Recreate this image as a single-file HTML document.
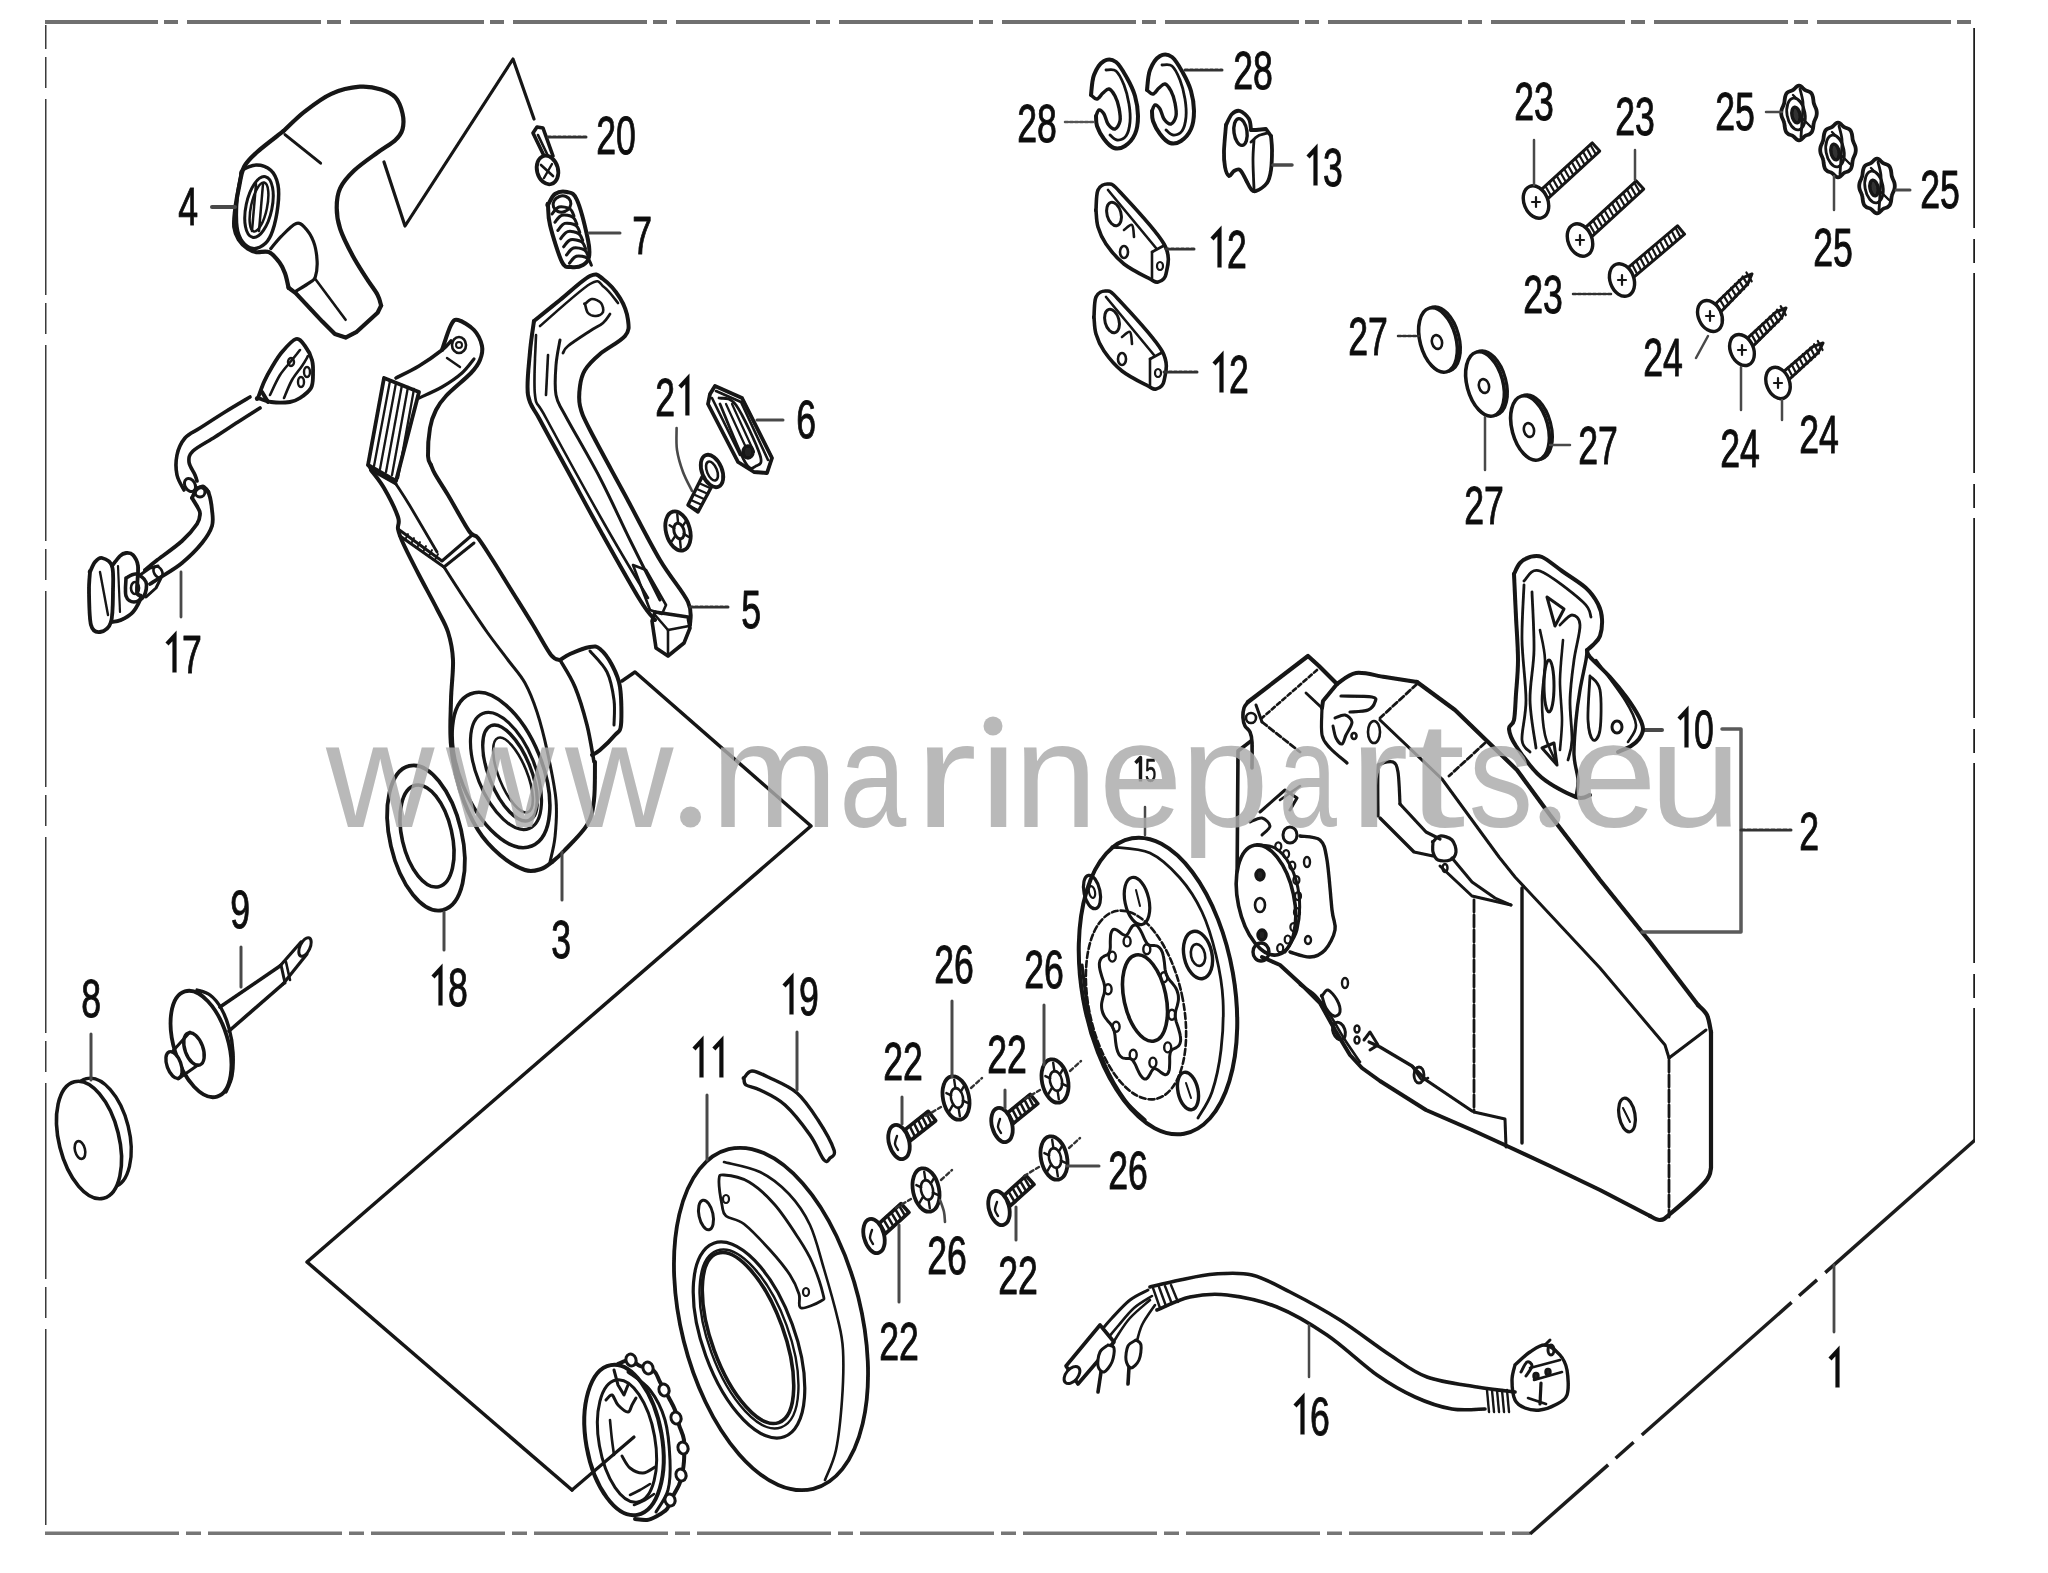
<!DOCTYPE html>
<html><head><meta charset="utf-8"><title>Parts diagram</title>
<style>html,body{margin:0;padding:0;background:#fff;overflow:hidden}svg{display:block;will-change:transform}</style>
</head><body>
<svg xmlns="http://www.w3.org/2000/svg" width="2048" height="1573" viewBox="0 0 2048 1573" stroke-linecap="round" stroke-linejoin="round">
<defs><filter id="soft" x="0" y="0" width="1" height="1"><feGaussianBlur stdDeviation="0.7"/></filter></defs>
<rect width="2048" height="1573" fill="#fff"/>
<g font-family="Liberation Sans, sans-serif" filter="url(#soft)">
<line x1="45" y1="20.5" x2="1974" y2="20.5" stroke="#707070" stroke-width="7" stroke-dasharray="134 6 14 9" stroke-dashoffset="21" stroke-linecap="butt"/>
<line x1="45" y1="25" x2="45" y2="1534" stroke="#3a3a3a" stroke-width="3" stroke-dasharray="196 8 31 11" stroke-dashoffset="-74" stroke-linecap="butt"/>
<line x1="45" y1="1534.5" x2="1530" y2="1534.5" stroke="#767676" stroke-width="6" stroke-dasharray="134 7 15 7" stroke-dashoffset="0" stroke-linecap="butt"/>
<line x1="1975" y1="28" x2="1975" y2="1140" stroke="#1e1e1e" stroke-width="3.5" stroke-dasharray="200 11 24 10" stroke-linecap="butt"/>
<line x1="1975" y1="1140" x2="1530" y2="1534" stroke="#1e1e1e" stroke-width="3.5" stroke-dasharray="200 11 24 10" stroke-linecap="butt"/>
<path d="M384,162 L405,226 L513,59 L534,119" fill="none" stroke="#141414" stroke-width="3.2" />
<path d="M622,681 L635,672 L811,826 L307,1262 L572,1490" fill="none" stroke="#141414" stroke-width="3.5" />
<path d="M283.3,131.2 C286.9,127.9 296.6,117.8 304.6,111.6 C312.6,105.4 322.1,97.9 331.3,93.8 C340.5,89.7 351.5,87.4 359.8,86.7 C368.1,86.0 375.2,87.6 381.1,89.4 C387.0,91.2 391.8,93.4 395.4,97.4 C399.0,101.4 401.3,108.1 402.5,113.4 C403.7,118.7 403.7,125.0 402.5,129.4 C401.3,133.8 399.5,136.2 395.4,140.1 C391.2,143.9 384.4,147.5 377.6,152.5 C370.8,157.5 360.6,164.4 354.4,170.3 C348.2,176.2 343.1,181.9 340.2,188.1 C337.2,194.3 336.7,200.9 336.7,207.7 C336.7,214.5 337.5,221.0 340.2,229.0 C342.9,237.0 348.2,247.4 352.7,255.7 C357.1,264.0 362.8,272.4 366.9,278.9 C371.0,285.4 375.2,290.4 377.6,294.9 C380.0,299.3 380.5,303.8 381.1,305.6" fill="none" stroke="#141414" stroke-width="4.2" />
<path d="M381.1,305.6 L377.6,312.7 L356.2,332.2 L345.6,337.6 L334.9,334.0 L322.4,321.6 L295.7,293.1 L288.6,287.8" fill="none" stroke="#141414" stroke-width="4.2" />
<path d="M288.6,287.8 C288.0,285.4 286.6,277.7 285.1,273.5 C283.6,269.3 282.4,266.4 279.7,262.8 C277.0,259.2 272.9,254.0 269.0,252.2 C265.1,250.4 260.2,252.8 256.6,252.2 C253.1,251.6 250.7,250.7 247.7,248.6 C244.7,246.5 241.0,243.2 238.8,239.7 C236.6,236.1 234.9,232.3 234.3,227.3 C233.7,222.3 234.4,216.0 235.2,209.5 C235.9,203.0 237.3,195.2 238.8,188.1 C240.3,181.0 241.1,172.7 244.1,166.8 C247.1,160.9 250.1,158.4 256.6,152.5 C263.1,146.6 278.9,134.8 283.3,131.2" fill="none" stroke="#141414" stroke-width="4.2" />
<path d="M242.3,170.3 C245.0,168.2 251.9,165.0 256.6,165.0 C261.4,165.0 267.2,167.0 270.8,170.3 C274.4,173.6 276.7,178.7 277.9,184.6 C279.1,190.5 278.8,198.2 277.9,205.9 C277.0,213.6 274.7,224.6 272.6,230.8 C270.5,237.0 268.8,240.3 265.5,243.3 C262.2,246.3 256.9,248.9 253.0,248.6 C249.1,248.3 245.0,245.1 242.3,241.5 C239.6,237.9 237.9,234.4 237.0,227.3 C236.1,220.2 236.4,207.1 237.0,198.8 C237.6,190.5 239.7,182.2 240.6,177.4 C241.5,172.7 239.6,172.4 242.3,170.3 Z" fill="none" stroke="#141414" stroke-width="3.5" />
<ellipse cx="259" cy="207" rx="13" ry="31" transform="rotate(12 259 207)" fill="none" stroke="#141414" stroke-width="3" />
<ellipse cx="259" cy="207" rx="8" ry="25" transform="rotate(12 259 207)" fill="none" stroke="#141414" stroke-width="2.5" />
<line x1="256" y1="184" x2="252" y2="231" stroke="#141414" stroke-width="2.5" />
<line x1="263" y1="184" x2="259" y2="231" stroke="#141414" stroke-width="2.5" />
<line x1="285" y1="134.7" x2="320.6" y2="163.2" stroke="#141414" stroke-width="3" />
<path d="M270.8,248.6 C272.6,246.5 277.4,240.3 281.5,236.2 C285.6,232.0 291.8,225.2 295.7,223.7 C299.6,222.2 301.6,224.3 304.6,227.3 C307.6,230.3 311.4,235.9 313.5,241.5 C315.6,247.1 316.8,255.1 317.1,261.0 C317.4,266.9 316.5,273.5 315.3,277.1 C314.1,280.7 313.3,280.0 310.0,282.4 C306.7,284.8 298.1,289.8 295.7,291.3" fill="none" stroke="#141414" stroke-width="3.2" />
<line x1="315.3" y1="278.9" x2="345.6" y2="319.8" stroke="#141414" stroke-width="2.6" />
<line x1="212" y1="207" x2="235" y2="207" stroke="#4a4a4a" stroke-width="4" />
<text transform="translate(178.3,225.0) scale(0.66,1)" font-size="54" fill="#111" stroke="#111" stroke-width="1.0">4</text>
<path d="M533,133 L537,127 L543,128 L553,156 L546,160 L533,133 Z" fill="none" stroke="#141414" stroke-width="3.6" />
<line x1="538" y1="135" x2="548" y2="156" stroke="#141414" stroke-width="2.6" />
<ellipse cx="547.5" cy="170" rx="10.5" ry="14.5" transform="rotate(-15 547.5 170)" fill="#fff" stroke="#141414" stroke-width="3.8" />
<line x1="541" y1="165" x2="553" y2="176" stroke="#141414" stroke-width="2.6" />
<line x1="544" y1="178" x2="552" y2="164" stroke="#141414" stroke-width="2.4" />
<line x1="548" y1="137" x2="587" y2="137" stroke="#333" stroke-width="3" stroke-dasharray="3 2"/>
<text transform="translate(596.3,154.0) scale(0.66,1)" font-size="54" fill="#111" stroke="#111" stroke-width="1.0">2</text>
<text transform="translate(616.1,154.0) scale(0.66,1)" font-size="54" fill="#111" stroke="#111" stroke-width="1.0">0</text>
<path d="M548.0,205.0 C549.2,203.2 551.8,196.2 555.0,194.0 C558.2,191.8 563.3,191.0 567.0,192.0 C570.7,193.0 573.5,192.0 577.0,200.0 C580.5,208.0 586.0,230.5 588.0,240.0 C590.0,249.5 589.8,252.8 589.0,257.0 C588.2,261.2 586.0,263.3 583.0,265.0 C580.0,266.7 574.5,267.5 571.0,267.0 C567.5,266.5 565.5,269.0 562.0,262.0 C558.5,255.0 552.3,234.5 550.0,225.0 C547.7,215.5 548.3,208.3 548.0,205.0 C547.7,201.7 546.8,206.8 548.0,205.0 Z" fill="none" stroke="#141414" stroke-width="4" />
<ellipse cx="562" cy="204" rx="9" ry="8" transform="rotate(-20 562 204)" fill="none" stroke="#141414" stroke-width="3" />
<path d="M552.0,214.0 C553.2,212.8 556.0,207.8 559.0,207.0 C562.0,206.2 567.5,207.5 570.0,209.0 C572.5,210.5 573.3,214.8 574.0,216.0" fill="none" stroke="#141414" stroke-width="3" />
<path d="M554.9,222.2 C556.1,221.0 558.9,216.0 561.9,215.2 C564.9,214.4 570.4,215.7 572.9,217.2 C575.4,218.7 576.2,223.0 576.9,224.2" fill="none" stroke="#141414" stroke-width="3" />
<path d="M557.8,230.4 C559.0,229.2 561.8,224.2 564.8,223.4 C567.8,222.6 573.3,223.9 575.8,225.4 C578.3,226.9 579.1,231.2 579.8,232.4" fill="none" stroke="#141414" stroke-width="3" />
<path d="M560.7,238.6 C561.9,237.4 564.7,232.4 567.7,231.6 C570.7,230.8 576.2,232.1 578.7,233.6 C581.2,235.1 582.0,239.4 582.7,240.6" fill="none" stroke="#141414" stroke-width="3" />
<path d="M563.6,246.8 C564.8,245.6 567.6,240.6 570.6,239.8 C573.6,239.0 579.1,240.3 581.6,241.8 C584.1,243.3 584.9,247.6 585.6,248.8" fill="none" stroke="#141414" stroke-width="3" />
<path d="M566.5,255.0 C567.7,253.8 570.5,248.8 573.5,248.0 C576.5,247.2 582.0,248.5 584.5,250.0 C587.0,251.5 587.8,255.8 588.5,257.0" fill="none" stroke="#141414" stroke-width="3" />
<path d="M569.4,263.2 C570.6,262.0 573.4,257.0 576.4,256.2 C579.4,255.4 584.9,256.7 587.4,258.2 C589.9,259.7 590.7,264.0 591.4,265.2" fill="none" stroke="#141414" stroke-width="3" />
<line x1="589" y1="233" x2="620" y2="233" stroke="#4a4a4a" stroke-width="3" />
<text transform="translate(632.3,254.0) scale(0.66,1)" font-size="54" fill="#111" stroke="#111" stroke-width="1.0">7</text>
<path d="M258.0,398.0 C259.0,395.3 261.7,387.2 264.0,382.0 C266.3,376.8 269.0,372.0 272.0,367.0 C275.0,362.0 278.0,356.7 282.0,352.0 C286.0,347.3 292.2,340.0 296.0,339.0 C299.8,338.0 302.3,342.5 305.0,346.0 C307.7,349.5 310.7,355.2 312.0,360.0 C313.3,364.8 313.2,370.3 313.0,375.0 C312.8,379.7 313.2,384.2 311.0,388.0 C308.8,391.8 303.5,395.7 300.0,398.0 C296.5,400.3 294.8,401.3 290.0,402.0 C285.2,402.7 276.3,402.7 271.0,402.0 C265.7,401.3 260.2,398.7 258.0,398.0 C255.8,397.3 257.0,400.7 258.0,398.0 Z" fill="none" stroke="#141414" stroke-width="3.8" />
<path d="M270.0,395.0 C271.7,391.7 276.3,380.8 280.0,375.0 C283.7,369.2 288.7,364.2 292.0,360.0 C295.3,355.8 298.7,351.7 300.0,350.0" fill="none" stroke="#141414" stroke-width="2.6" />
<path d="M284.0,398.0 C285.3,395.0 289.0,385.3 292.0,380.0 C295.0,374.7 299.3,370.0 302.0,366.0 C304.7,362.0 307.0,357.7 308.0,356.0" fill="none" stroke="#141414" stroke-width="2.6" />
<ellipse cx="291" cy="362" rx="3" ry="4" transform="rotate(0 291 362)" fill="none" stroke="#141414" stroke-width="2.4" />
<ellipse cx="301" cy="382" rx="3" ry="5" transform="rotate(0 301 382)" fill="none" stroke="#141414" stroke-width="2.4" />
<ellipse cx="307" cy="372" rx="3" ry="5" transform="rotate(0 307 372)" fill="none" stroke="#141414" stroke-width="2.4" />
<line x1="262" y1="392" x2="268" y2="402" stroke="#141414" stroke-width="4" />
<path d="M250.0,397.0 C245.8,399.5 233.3,406.8 225.0,412.0 C216.7,417.2 206.7,423.7 200.0,428.0 C193.3,432.3 188.8,433.5 185.0,438.0 C181.2,442.5 178.3,448.8 177.0,455.0 C175.7,461.2 175.8,469.2 177.0,475.0 C178.2,480.8 182.8,487.5 184.0,490.0" fill="none" stroke="#141414" stroke-width="3.6" />
<path d="M260.0,408.0 C256.3,410.3 245.5,417.2 238.0,422.0 C230.5,426.8 222.5,432.2 215.0,437.0 C207.5,441.8 197.3,446.8 193.0,451.0 C188.7,455.2 188.7,458.0 189.0,462.0 C189.3,466.0 193.7,471.8 195.0,475.0 C196.3,478.2 196.7,480.0 197.0,481.0" fill="none" stroke="#141414" stroke-width="3.6" />
<ellipse cx="190" cy="485" rx="5" ry="7" transform="rotate(-30 190 485)" fill="none" stroke="#141414" stroke-width="3" />
<path d="M196.0,490.0 C197.2,489.3 200.8,485.7 203.0,486.0 C205.2,486.3 208.0,491.0 209.0,492.0" fill="none" stroke="#141414" stroke-width="3" />
<path d="M192.0,498.0 C192.8,496.5 195.0,490.7 197.0,489.0 C199.0,487.3 202.0,487.2 204.0,488.0 C206.0,488.8 207.7,490.3 209.0,494.0 C210.3,497.7 211.5,504.7 212.0,510.0 C212.5,515.3 213.7,520.5 212.0,526.0 C210.3,531.5 207.0,536.8 202.0,543.0 C197.0,549.2 188.8,557.3 182.0,563.0 C175.2,568.7 166.3,573.5 161.0,577.0 C155.7,580.5 151.8,582.8 150.0,584.0" fill="none" stroke="#141414" stroke-width="3.8" />
<path d="M192.0,498.0 C193.0,499.7 196.7,505.3 198.0,508.0 C199.3,510.7 200.2,511.3 200.0,514.0 C199.8,516.7 200.0,519.5 197.0,524.0 C194.0,528.5 188.8,534.8 182.0,541.0 C175.2,547.2 162.2,556.2 156.0,561.0 C149.8,565.8 146.8,568.5 145.0,570.0" fill="none" stroke="#141414" stroke-width="3.8" />
<ellipse cx="200" cy="492" rx="5" ry="5" transform="rotate(0 200 492)" fill="none" stroke="#141414" stroke-width="3" />
<path d="M90.0,572.0 C90.8,570.3 93.0,564.3 95.0,562.0 C97.0,559.7 99.2,557.3 102.0,558.0 C104.8,558.7 110.2,560.7 112.0,566.0 C113.8,571.3 113.2,580.7 113.0,590.0 C112.8,599.3 113.2,615.0 111.0,622.0 C108.8,629.0 103.3,631.5 100.0,632.0 C96.7,632.5 92.8,631.7 91.0,625.0 C89.2,618.3 89.2,600.8 89.0,592.0 C88.8,583.2 89.8,575.3 90.0,572.0 C90.2,568.7 89.2,573.7 90.0,572.0 Z" fill="none" stroke="#141414" stroke-width="3.8" />
<path d="M112.0,566.0 C113.3,564.3 117.7,558.2 120.0,556.0 C122.3,553.8 123.8,553.2 126.0,553.0 C128.2,552.8 131.0,552.8 133.0,555.0 C135.0,557.2 137.3,559.8 138.0,566.0 C138.7,572.2 136.5,586.8 137.0,592.0 C137.5,597.2 141.7,593.7 141.0,597.0 C140.3,600.3 136.3,608.2 133.0,612.0 C129.7,615.8 124.7,618.3 121.0,620.0 C117.3,621.7 112.7,621.7 111.0,622.0" fill="none" stroke="#141414" stroke-width="3.8" />
<path d="M126.0,578.0 C127.7,577.3 132.7,573.3 136.0,574.0 C139.3,574.7 144.7,578.3 146.0,582.0 C147.3,585.7 146.0,592.7 144.0,596.0 C142.0,599.3 137.0,602.0 134.0,602.0 C131.0,602.0 127.3,600.0 126.0,596.0 C124.7,592.0 126.0,581.0 126.0,578.0" fill="none" stroke="#141414" stroke-width="3.6" />
<ellipse cx="135" cy="588" rx="4" ry="6" transform="rotate(0 135 588)" fill="none" stroke="#141414" stroke-width="2.6" />
<line x1="100" y1="572" x2="108" y2="615" stroke="#141414" stroke-width="2.4" />
<line x1="118" y1="566" x2="120" y2="612" stroke="#141414" stroke-width="2.2" />
<path d="M140,575 L150,568 L158,566" fill="none" stroke="#141414" stroke-width="3" />
<path d="M146,597 L156,588 L161,578" fill="none" stroke="#141414" stroke-width="3" />
<ellipse cx="158" cy="572" rx="4" ry="6" transform="rotate(-30 158 572)" fill="none" stroke="#141414" stroke-width="2.6" />
<line x1="181" y1="572" x2="181" y2="617" stroke="#4a4a4a" stroke-width="2.8" />
<path d="M167.0,644.0 L174.5,635.8 L174.5,672.5" fill="none" stroke="#111" stroke-width="4.2" stroke-linecap="butt" stroke-linejoin="miter"/>
<text transform="translate(182.1,673.0) scale(0.66,1)" font-size="54" fill="#111" stroke="#111" stroke-width="1.0">7</text>
<path d="M384,378 L419,392 L396,481 L368,465 L384,378" fill="none" stroke="#141414" stroke-width="3.8" />
<path d="M368,465 L371,470 L396,484" fill="none" stroke="#141414" stroke-width="3" />
<line x1="390" y1="381" x2="374" y2="466" stroke="#141414" stroke-width="2.3" />
<line x1="396" y1="383" x2="380" y2="469" stroke="#141414" stroke-width="2.3" />
<line x1="402" y1="385" x2="386" y2="472" stroke="#141414" stroke-width="2.3" />
<line x1="408" y1="387" x2="392" y2="475" stroke="#141414" stroke-width="2.3" />
<line x1="414" y1="389" x2="398" y2="478" stroke="#141414" stroke-width="2.3" />
<path d="M396.0,378.0 C399.8,376.0 411.3,370.7 419.0,366.0 C426.7,361.3 436.7,354.2 442.0,350.0 C447.3,345.8 449.5,342.5 451.0,341.0" fill="none" stroke="#141414" stroke-width="3.6" />
<path d="M419.0,398.0 C422.8,396.2 434.8,391.2 442.0,387.0 C449.2,382.8 456.7,377.7 462.0,373.0 C467.3,368.3 472.0,361.3 474.0,359.0" fill="none" stroke="#141414" stroke-width="3.2" />
<path d="M442.0,350.0 C443.5,345.8 448.3,330.0 451.0,325.0 C453.7,320.0 454.2,319.2 458.0,320.0 C461.8,320.8 470.0,325.7 474.0,330.0 C478.0,334.3 481.0,341.0 482.0,346.0 C483.0,351.0 481.8,355.5 480.0,360.0 C478.2,364.5 476.7,367.0 471.0,373.0 C465.3,379.0 451.8,389.8 446.0,396.0 C440.2,402.2 438.7,404.7 436.0,410.0 C433.3,415.3 431.3,420.3 430.0,428.0 C428.7,435.7 427.8,449.8 428.0,456.0 C428.2,462.2 430.5,463.5 431.0,465.0" fill="none" stroke="#141414" stroke-width="4" />
<ellipse cx="459" cy="345" rx="7" ry="8" transform="rotate(0 459 345)" fill="none" stroke="#141414" stroke-width="2.6" />
<ellipse cx="459" cy="345" rx="3" ry="3" transform="rotate(0 459 345)" fill="none" stroke="#141414" stroke-width="2" />
<line x1="447" y1="358" x2="460" y2="367" stroke="#141414" stroke-width="2.4" />
<path d="M431.0,465.0 C431.7,466.5 432.2,469.0 435.0,474.0 C437.8,479.0 442.3,485.5 448.0,495.0 C453.7,504.5 464.0,523.8 469.0,531.0 C474.0,538.2 474.2,533.3 478.0,538.0 C481.8,542.7 486.7,550.7 492.0,559.0 C497.3,567.3 503.2,577.0 510.0,588.0 C516.8,599.0 526.2,613.8 533.0,625.0 C539.8,636.2 546.5,649.2 551.0,655.0 C555.5,660.8 558.5,659.2 560.0,660.0" fill="none" stroke="#141414" stroke-width="4" />
<path d="M371.0,470.0 C373.2,473.0 379.5,480.2 384.0,488.0 C388.5,495.8 395.7,510.2 398.0,517.0 C400.3,523.8 397.2,524.7 398.0,529.0 C398.8,533.3 399.5,535.3 403.0,543.0 C406.5,550.7 413.3,564.0 419.0,575.0 C424.7,586.0 432.2,599.5 437.0,609.0 C441.8,618.5 445.3,623.5 448.0,632.0 C450.7,640.5 452.5,648.7 453.0,660.0 C453.5,671.3 451.3,685.8 451.0,700.0 C450.7,714.2 449.5,730.0 451.0,745.0 C452.5,760.0 455.5,775.8 460.0,790.0 C464.5,804.2 471.3,819.2 478.0,830.0 C484.7,840.8 492.2,848.3 500.0,855.0 C507.8,861.7 518.2,867.7 525.0,870.0 C531.8,872.3 536.5,870.3 541.0,869.0 C545.5,867.7 550.2,863.2 552.0,862.0" fill="none" stroke="#141414" stroke-width="4" />
<path d="M552.0,862.0 C553.8,860.3 557.2,858.2 563.0,852.0 C568.8,845.8 581.8,833.7 587.0,825.0 C592.2,816.3 592.7,810.5 594.0,800.0 C595.3,789.5 594.8,768.3 595.0,762.0" fill="none" stroke="#141414" stroke-width="4" />
<path d="M398,529 L442,561 L471,536" fill="none" stroke="#141414" stroke-width="3" />
<path d="M400,536 L444,567 L474,543" fill="none" stroke="#141414" stroke-width="3" />
<line x1="405" y1="540" x2="408" y2="534" stroke="#141414" stroke-width="1.8" />
<line x1="411" y1="544" x2="414" y2="538" stroke="#141414" stroke-width="1.8" />
<line x1="417" y1="548" x2="420" y2="542" stroke="#141414" stroke-width="1.8" />
<line x1="423" y1="552" x2="426" y2="546" stroke="#141414" stroke-width="1.8" />
<line x1="429" y1="556" x2="432" y2="550" stroke="#141414" stroke-width="1.8" />
<line x1="435" y1="560" x2="438" y2="554" stroke="#141414" stroke-width="1.8" />
<path d="M396.0,484.0 C398.3,487.7 403.2,494.7 410.0,506.0 C416.8,517.3 432.5,544.3 437.0,552.0" fill="none" stroke="#141414" stroke-width="2.8" />
<path d="M444.0,567.0 C447.3,572.2 456.8,587.2 464.0,598.0 C471.2,608.8 479.7,621.7 487.0,632.0 C494.3,642.3 501.7,651.5 508.0,660.0 C514.3,668.5 520.2,674.3 525.0,683.0 C529.8,691.7 533.3,700.8 537.0,712.0 C540.7,723.2 543.8,735.3 547.0,750.0 C550.2,764.7 554.7,785.5 556.0,800.0 C557.3,814.5 556.0,826.7 555.0,837.0 C554.0,847.3 550.8,857.8 550.0,862.0" fill="none" stroke="#141414" stroke-width="3" />
<path d="M560.0,660.0 C561.7,659.0 565.0,656.2 570.0,654.0 C575.0,651.8 585.0,647.8 590.0,647.0 C595.0,646.2 596.3,646.0 600.0,649.0 C603.7,652.0 608.7,658.7 612.0,665.0 C615.3,671.3 618.5,677.0 620.0,687.0 C621.5,697.0 621.8,717.0 621.0,725.0 C620.2,733.0 618.5,730.8 615.0,735.0 C611.5,739.2 603.8,746.7 600.0,750.0 C596.2,753.3 593.3,754.2 592.0,755.0" fill="none" stroke="#141414" stroke-width="4" />
<path d="M560.0,660.0 C562.5,664.5 570.5,676.2 575.0,687.0 C579.5,697.8 583.8,712.5 587.0,725.0 C590.2,737.5 592.8,755.8 594.0,762.0" fill="none" stroke="#141414" stroke-width="3.6" />
<path d="M590.0,651.0 C592.8,654.5 603.0,663.8 607.0,672.0 C611.0,680.2 612.8,691.2 614.0,700.0 C615.2,708.8 614.0,720.8 614.0,725.0" fill="none" stroke="#141414" stroke-width="3" />
<ellipse cx="501" cy="770" rx="41" ry="82" transform="rotate(-22 501 770)" fill="none" stroke="#141414" stroke-width="3.6" />
<ellipse cx="506" cy="771" rx="29" ry="62" transform="rotate(-22 506 771)" fill="none" stroke="#141414" stroke-width="3.2" />
<ellipse cx="510" cy="773" rx="21" ry="51" transform="rotate(-22 510 773)" fill="none" stroke="#141414" stroke-width="3.4" />
<ellipse cx="513" cy="775" rx="14" ry="40" transform="rotate(-22 513 775)" fill="none" stroke="#141414" stroke-width="2.6" />
<line x1="562" y1="852" x2="562" y2="900" stroke="#4a4a4a" stroke-width="3" />
<text transform="translate(551.3,958.0) scale(0.66,1)" font-size="54" fill="#111" stroke="#111" stroke-width="1.0">3</text>
<ellipse cx="426" cy="838" rx="36" ry="74" transform="rotate(-13 426 838)" fill="none" stroke="#141414" stroke-width="3.8" />
<ellipse cx="427" cy="836" rx="25" ry="52" transform="rotate(-13 427 836)" fill="none" stroke="#141414" stroke-width="3.6" />
<line x1="444" y1="912" x2="444" y2="950" stroke="#4a4a4a" stroke-width="3" />
<path d="M433.0,977.0 L440.5,968.8 L440.5,1005.5" fill="none" stroke="#111" stroke-width="4.2" stroke-linecap="butt" stroke-linejoin="miter"/>
<text transform="translate(448.1,1006.0) scale(0.66,1)" font-size="54" fill="#111" stroke="#111" stroke-width="1.0">8</text>
<path d="M534.0,321.0 C538.3,317.5 550.7,307.5 560.0,300.0 C569.3,292.5 582.8,279.5 590.0,276.0 C597.2,272.5 598.0,275.3 603.0,279.0 C608.0,282.7 615.8,291.2 620.0,298.0 C624.2,304.8 627.2,313.7 628.0,320.0 C628.8,326.3 629.7,330.3 625.0,336.0 C620.3,341.7 606.7,348.3 600.0,354.0 C593.3,359.7 588.3,364.7 585.0,370.0 C581.7,375.3 580.8,380.0 580.0,386.0 C579.2,392.0 578.3,398.7 580.0,406.0 C581.7,413.3 582.5,415.2 590.0,430.0 C597.5,444.8 613.3,473.3 625.0,495.0 C636.7,516.7 649.5,542.2 660.0,560.0 C670.5,577.8 683.0,591.2 688.0,602.0 C693.0,612.8 689.7,621.2 690.0,625.0" fill="none" stroke="#141414" stroke-width="4" />
<path d="M534.0,321.0 C533.3,326.2 531.0,339.7 530.0,352.0 C529.0,364.3 526.3,383.7 528.0,395.0 C529.7,406.3 533.0,406.7 540.0,420.0 C547.0,433.3 560.0,456.7 570.0,475.0 C580.0,493.3 588.3,509.2 600.0,530.0 C611.7,550.8 630.8,585.0 640.0,600.0 C649.2,615.0 652.5,616.7 655.0,620.0" fill="none" stroke="#141414" stroke-width="4" />
<path d="M540.0,326.0 C548.3,319.0 579.3,290.5 590.0,284.0 C600.7,277.5 599.3,283.8 604.0,287.0 C608.7,290.2 615.7,300.3 618.0,303.0" fill="none" stroke="#141414" stroke-width="2.6" />
<path d="M536.0,335.0 C535.8,345.0 533.3,381.2 535.0,395.0 C536.7,408.8 534.3,396.3 546.0,418.0 C557.7,439.7 588.0,495.0 605.0,525.0 C622.0,555.0 640.8,585.8 648.0,598.0" fill="none" stroke="#141414" stroke-width="2.6" />
<path d="M560.0,340.0 C559.3,344.2 556.7,355.8 556.0,365.0 C555.3,374.2 554.5,386.7 556.0,395.0 C557.5,403.3 557.7,401.2 565.0,415.0 C572.3,428.8 589.2,457.2 600.0,478.0 C610.8,498.8 620.0,519.7 630.0,540.0 C640.0,560.3 655.0,590.0 660.0,600.0" fill="none" stroke="#141414" stroke-width="3" />
<path d="M548.0,355.0 C547.7,361.7 546.3,388.3 546.0,395.0" fill="none" stroke="#141414" stroke-width="2.6" />
<path d="M585.0,304.0 C586.2,303.2 589.3,299.2 592.0,299.0 C594.7,298.8 599.2,300.8 601.0,303.0 C602.8,305.2 603.8,309.8 603.0,312.0 C602.2,314.2 598.5,315.8 596.0,316.0 C593.5,316.2 589.8,315.0 588.0,313.0 C586.2,311.0 585.5,305.5 585.0,304.0 C584.5,302.5 583.8,304.8 585.0,304.0 Z" fill="none" stroke="#141414" stroke-width="2.6" />
<path d="M563.0,353.0 C563.8,351.8 563.5,349.7 568.0,346.0 C572.5,342.3 584.2,334.8 590.0,331.0 C595.8,327.2 599.7,325.8 603.0,323.0 C606.3,320.2 608.8,315.5 610.0,314.0" fill="none" stroke="#141414" stroke-width="2.8" />
<path d="M652,621 L655,612 L688,617 L690,628 L684,643 L668,656 L656,648 L652,621" fill="none" stroke="#141414" stroke-width="3.6" />
<line x1="668" y1="630" x2="668" y2="656" stroke="#141414" stroke-width="2.6" />
<line x1="655" y1="615" x2="668" y2="630" stroke="#141414" stroke-width="2.6" />
<line x1="668" y1="630" x2="689" y2="626" stroke="#141414" stroke-width="2.6" />
<path d="M633,565 L646,570 L666,605 L662,614 L650,610 L633,565" fill="none" stroke="#141414" stroke-width="2.6" />
<line x1="690" y1="607" x2="730" y2="607" stroke="#333" stroke-width="3" stroke-dasharray="3 2"/>
<text transform="translate(741.3,628.0) scale(0.66,1)" font-size="54" fill="#111" stroke="#111" stroke-width="1.0">5</text>
<path d="M702,477 L688,505 L698,512 L713,484 Z" fill="none" stroke="#141414" stroke-width="3.4" />
<line x1="701" y1="484.0" x2="710" y2="488.0" stroke="#141414" stroke-width="2.4" />
<line x1="698" y1="489.5" x2="707" y2="493.5" stroke="#141414" stroke-width="2.4" />
<line x1="695" y1="495.0" x2="704" y2="499.0" stroke="#141414" stroke-width="2.4" />
<line x1="692" y1="500.5" x2="701" y2="504.5" stroke="#141414" stroke-width="2.4" />
<line x1="689" y1="506.0" x2="698" y2="510.0" stroke="#141414" stroke-width="2.4" />
<ellipse cx="712" cy="471" rx="10" ry="17" transform="rotate(-22 712 471)" fill="#fff" stroke="#141414" stroke-width="3.8" />
<ellipse cx="712" cy="471" rx="5" ry="10" transform="rotate(-22 712 471)" fill="none" stroke="#141414" stroke-width="2.6" />
<ellipse cx="678" cy="531" rx="12" ry="20" transform="rotate(-15 678 531)" fill="#fff" stroke="#141414" stroke-width="3.8" />
<ellipse cx="679" cy="531" rx="5" ry="8" transform="rotate(-15 679 531)" fill="none" stroke="#141414" stroke-width="3" />
<line x1="683.6984631039295" y1="533.7361611466054" x2="688.3969262078591" y2="536.8143424365363" stroke="#141414" stroke-width="2.4" />
<line x1="679.8682408883346" y1="538.8784620240976" x2="680.7364817766693" y2="547.7417318012075" stroke="#141414" stroke-width="2.4" />
<line x1="675.1697777844051" y1="536.1423008774923" x2="671.3395555688102" y2="541.9273893646712" stroke="#141414" stroke-width="2.4" />
<line x1="674.3015368960705" y1="528.2638388533946" x2="669.6030737921409" y2="525.1856575634637" stroke="#141414" stroke-width="2.4" />
<line x1="678.1317591116654" y1="523.1215379759024" x2="677.2635182233307" y2="514.2582681987925" stroke="#141414" stroke-width="2.4" />
<line x1="682.8302222155949" y1="525.8576991225077" x2="686.6604444311898" y2="520.0726106353288" stroke="#141414" stroke-width="2.4" />
<path d="M676.6,428.0 C676.7,431.7 675.9,442.7 677.0,450.0 C678.1,457.3 680.5,465.2 683.0,472.0 C685.5,478.8 690.5,487.8 692.0,491.0" fill="none" stroke="#4a4a4a" stroke-width="2.6" />
<text transform="translate(655.3,416.0) scale(0.66,1)" font-size="54" fill="#111" stroke="#111" stroke-width="1.0">2</text>
<path d="M679.9,387.0 L687.4,378.8 L687.4,415.5" fill="none" stroke="#111" stroke-width="4.2" stroke-linecap="butt" stroke-linejoin="miter"/>
<path d="M708,404 L710,394 L715,386 L742,398 L772,458 L767,473 L754,472 L738,462 L708,404 Z" fill="none" stroke="#141414" stroke-width="3.8" />
<path d="M716,391 L741,402 L768,460" fill="none" stroke="#141414" stroke-width="2.6" />
<path d="M712,398 L740,455" fill="none" stroke="#141414" stroke-width="2.6" />
<path d="M719.0,398.0 C721.8,399.2 729.2,395.5 736.0,405.0 C742.8,414.5 756.7,444.8 760.0,455.0 C763.3,465.2 758.5,464.8 756.0,466.0 C753.5,467.2 751.0,472.3 745.0,462.0 C739.0,451.7 724.2,413.7 720.0,404.0" fill="none" stroke="#141414" stroke-width="2.8" />
<line x1="726" y1="404" x2="748" y2="452" stroke="#141414" stroke-width="2.2" />
<line x1="732" y1="404" x2="754" y2="452" stroke="#141414" stroke-width="2.2" />
<ellipse cx="748" cy="452" rx="5" ry="6" transform="rotate(0 748 452)" fill="#222" stroke="#141414" stroke-width="3.4" />
<line x1="757" y1="420" x2="783" y2="420" stroke="#4a4a4a" stroke-width="3" />
<text transform="translate(796.3,438.0) scale(0.66,1)" font-size="54" fill="#111" stroke="#111" stroke-width="1.0">6</text>
<ellipse cx="201" cy="1044" rx="27" ry="55" transform="rotate(-17 201 1044)" fill="#fff" stroke="#141414" stroke-width="3.8" />
<path d="M197.0,990.0 C199.2,990.8 206.0,992.0 210.0,995.0 C214.0,998.0 217.8,1002.5 221.0,1008.0 C224.2,1013.5 227.0,1020.7 229.0,1028.0 C231.0,1035.3 232.5,1044.0 233.0,1052.0 C233.5,1060.0 233.2,1069.3 232.0,1076.0 C230.8,1082.7 227.0,1089.3 226.0,1092.0" fill="none" stroke="#141414" stroke-width="3.4" />
<path d="M220,1007 L280,966" fill="none" stroke="#141414" stroke-width="3.6" />
<path d="M229,1031 L283,984" fill="none" stroke="#141414" stroke-width="3.6" />
<path d="M280,966 L301,942" fill="none" stroke="#141414" stroke-width="3.2" />
<path d="M283,984 L307,954" fill="none" stroke="#141414" stroke-width="3.2" />
<line x1="281" y1="965" x2="285" y2="983" stroke="#141414" stroke-width="3" />
<line x1="286" y1="962" x2="290" y2="980" stroke="#141414" stroke-width="2.6" />
<ellipse cx="305" cy="947" rx="5" ry="10" transform="rotate(25 305 947)" fill="#fff" stroke="#141414" stroke-width="3" />
<ellipse cx="194" cy="1049" rx="9" ry="17" transform="rotate(-20 194 1049)" fill="#fff" stroke="#141414" stroke-width="3.4" />
<ellipse cx="174" cy="1065" rx="7" ry="14" transform="rotate(-20 174 1065)" fill="#fff" stroke="#141414" stroke-width="3.4" />
<line x1="172" y1="1052" x2="190" y2="1032" stroke="#141414" stroke-width="3" />
<line x1="178" y1="1079" x2="198" y2="1065" stroke="#141414" stroke-width="3" />
<line x1="241" y1="947" x2="241" y2="987" stroke="#4a4a4a" stroke-width="3" />
<text transform="translate(230.3,928.0) scale(0.66,1)" font-size="54" fill="#111" stroke="#111" stroke-width="1.0">9</text>
<ellipse cx="100" cy="1133" rx="29" ry="56" transform="rotate(-14 100 1133)" fill="#fff" stroke="#141414" stroke-width="3.4" />
<ellipse cx="89" cy="1140" rx="30" ry="60" transform="rotate(-14 89 1140)" fill="#fff" stroke="#141414" stroke-width="3.6" />
<ellipse cx="80" cy="1150" rx="5" ry="9" transform="rotate(-14 80 1150)" fill="none" stroke="#141414" stroke-width="2.6" />
<line x1="91" y1="1034" x2="91" y2="1080" stroke="#4a4a4a" stroke-width="3" />
<text transform="translate(81.3,1017.0) scale(0.66,1)" font-size="54" fill="#111" stroke="#111" stroke-width="1.0">8</text>
<ellipse cx="771" cy="1319" rx="90" ry="175" transform="rotate(-14 771 1319)" fill="#fff" stroke="#141414" stroke-width="3.8" />
<path d="M724.0,1162.0 C730.0,1163.7 749.2,1166.7 760.0,1172.0 C770.8,1177.3 780.7,1185.2 789.0,1194.0 C797.3,1202.8 804.2,1212.5 810.0,1225.0 C815.8,1237.5 819.3,1253.2 824.0,1269.0 C828.7,1284.8 834.8,1306.5 838.0,1320.0 C841.2,1333.5 842.3,1336.7 843.0,1350.0 C843.7,1363.3 843.2,1383.3 842.0,1400.0 C840.8,1416.7 838.8,1436.7 836.0,1450.0 C833.2,1463.3 826.8,1475.0 825.0,1480.0" fill="none" stroke="#141414" stroke-width="2.6" />
<ellipse cx="749" cy="1340" rx="46" ry="103" transform="rotate(-20 749 1340)" fill="none" stroke="#141414" stroke-width="3.2" />
<ellipse cx="749" cy="1339" rx="40" ry="94" transform="rotate(-20 749 1339)" fill="none" stroke="#141414" stroke-width="2.4" />
<ellipse cx="748" cy="1338" rx="36" ry="90" transform="rotate(-20 748 1338)" fill="none" stroke="#141414" stroke-width="3.6" />
<path d="M719.0,1180.0 C718.7,1185.0 720.8,1199.0 722.0,1205.0 C723.2,1211.0 722.3,1212.8 726.0,1216.0 C729.7,1219.2 736.7,1218.3 744.0,1224.0 C751.3,1229.7 762.3,1241.5 770.0,1250.0 C777.7,1258.5 785.2,1267.7 790.0,1275.0 C794.8,1282.3 797.2,1288.5 799.0,1294.0 C800.8,1299.5 797.3,1306.8 801.0,1308.0 C804.7,1309.2 817.3,1303.3 821.0,1301.0 C824.7,1298.7 824.5,1300.5 823.0,1294.0 C821.5,1287.5 816.0,1271.2 812.0,1262.0 C808.0,1252.8 805.2,1248.5 799.0,1239.0 C792.8,1229.5 783.3,1214.5 775.0,1205.0 C766.7,1195.5 757.5,1187.0 749.0,1182.0 C740.5,1177.0 729.0,1175.3 724.0,1175.0 C719.0,1174.7 719.3,1175.0 719.0,1180.0 Z" fill="none" stroke="#141414" stroke-width="2.8" />
<ellipse cx="706" cy="1215" rx="7" ry="15" transform="rotate(-12 706 1215)" fill="none" stroke="#141414" stroke-width="3" />
<ellipse cx="726" cy="1199" rx="3" ry="4" transform="rotate(0 726 1199)" fill="none" stroke="#141414" stroke-width="2.2" />
<ellipse cx="806" cy="1292" rx="3" ry="4" transform="rotate(0 806 1292)" fill="none" stroke="#141414" stroke-width="2.2" />
<line x1="707" y1="1095" x2="707" y2="1160" stroke="#4a4a4a" stroke-width="3" />
<path d="M694.0,1049.0 L701.5,1040.8 L701.5,1077.5" fill="none" stroke="#111" stroke-width="4.2" stroke-linecap="butt" stroke-linejoin="miter"/>
<path d="M713.9,1049.0 L721.4,1040.8 L721.4,1077.5" fill="none" stroke="#111" stroke-width="4.2" stroke-linecap="butt" stroke-linejoin="miter"/>
<path d="M744.0,1078.0 C745.3,1076.8 747.7,1071.0 752.0,1071.0 C756.3,1071.0 762.5,1074.3 770.0,1078.0 C777.5,1081.7 789.0,1086.0 797.0,1093.0 C805.0,1100.0 811.8,1110.5 818.0,1120.0 C824.2,1129.5 832.0,1143.7 834.0,1150.0 C836.0,1156.3 831.7,1156.3 830.0,1158.0 C828.3,1159.7 827.3,1163.8 824.0,1160.0 C820.7,1156.2 816.5,1144.2 810.0,1135.0 C803.5,1125.8 793.3,1112.5 785.0,1105.0 C776.7,1097.5 766.5,1093.3 760.0,1090.0 C753.5,1086.7 748.7,1087.0 746.0,1085.0 C743.3,1083.0 744.3,1079.2 744.0,1078.0 C743.7,1076.8 742.7,1079.2 744.0,1078.0 Z" fill="none" stroke="#141414" stroke-width="3.4" />
<line x1="797" y1="1032" x2="797" y2="1090" stroke="#4a4a4a" stroke-width="3" />
<path d="M784.0,986.0 L791.5,977.8 L791.5,1014.5" fill="none" stroke="#111" stroke-width="4.2" stroke-linecap="butt" stroke-linejoin="miter"/>
<text transform="translate(799.1,1015.0) scale(0.66,1)" font-size="54" fill="#111" stroke="#111" stroke-width="1.0">9</text>
<path d="M618.0,1364.0 C620.0,1363.3 626.3,1359.7 630.0,1360.0 C633.7,1360.3 636.0,1364.2 640.0,1366.0 C644.0,1367.8 650.7,1368.3 654.0,1371.0 C657.3,1373.7 657.5,1377.5 660.0,1382.0 C662.5,1386.5 666.5,1393.3 669.0,1398.0 C671.5,1402.7 673.3,1405.5 675.0,1410.0 C676.7,1414.5 677.5,1420.0 679.0,1425.0 C680.5,1430.0 683.2,1434.0 684.0,1440.0 C684.8,1446.0 684.3,1455.2 684.0,1461.0 C683.7,1466.8 682.8,1471.0 682.0,1475.0 C681.2,1479.0 680.7,1481.2 679.0,1485.0 C677.3,1488.8 674.0,1494.0 672.0,1498.0 C670.0,1502.0 669.5,1506.0 667.0,1509.0 C664.5,1512.0 660.3,1514.2 657.0,1516.0 C653.7,1517.8 650.7,1519.5 647.0,1520.0 C643.3,1520.5 637.0,1519.2 635.0,1519.0" fill="none" stroke="#141414" stroke-width="4" />
<ellipse cx="631" cy="1360" rx="5" ry="6" transform="rotate(-20 631 1360)" fill="#fff" stroke="#141414" stroke-width="3" />
<ellipse cx="648" cy="1368" rx="5" ry="6" transform="rotate(-20 648 1368)" fill="#fff" stroke="#141414" stroke-width="3" />
<ellipse cx="664" cy="1390" rx="5" ry="6" transform="rotate(-20 664 1390)" fill="#fff" stroke="#141414" stroke-width="3" />
<ellipse cx="676" cy="1418" rx="5" ry="6" transform="rotate(-20 676 1418)" fill="#fff" stroke="#141414" stroke-width="3" />
<ellipse cx="683" cy="1448" rx="5" ry="6" transform="rotate(-20 683 1448)" fill="#fff" stroke="#141414" stroke-width="3" />
<ellipse cx="681" cy="1475" rx="5" ry="6" transform="rotate(-20 681 1475)" fill="#fff" stroke="#141414" stroke-width="3" />
<ellipse cx="670" cy="1500" rx="5" ry="6" transform="rotate(-20 670 1500)" fill="#fff" stroke="#141414" stroke-width="3" />
<ellipse cx="624" cy="1440" rx="38" ry="76" transform="rotate(-10 624 1440)" fill="#fff" stroke="#141414" stroke-width="4" />
<ellipse cx="627" cy="1441" rx="28" ry="62" transform="rotate(-10 627 1441)" fill="none" stroke="#141414" stroke-width="3" />
<path d="M628.0,1372.0 C631.7,1375.0 643.8,1382.0 650.0,1390.0 C656.2,1398.0 661.7,1408.3 665.0,1420.0 C668.3,1431.7 669.5,1448.3 670.0,1460.0 C670.5,1471.7 670.3,1481.3 668.0,1490.0 C665.7,1498.7 658.0,1508.3 656.0,1512.0" fill="none" stroke="#141414" stroke-width="3" />
<path d="M622.0,1456.0 C623.3,1458.0 626.5,1465.2 630.0,1468.0 C633.5,1470.8 638.8,1473.2 643.0,1473.0 C647.2,1472.8 653.0,1468.0 655.0,1467.0" fill="none" stroke="#141414" stroke-width="3" />
<path d="M606.0,1400.0 C607.0,1399.2 610.0,1394.2 612.0,1395.0 C614.0,1395.8 615.3,1402.2 618.0,1405.0 C620.7,1407.8 625.7,1412.0 628.0,1412.0 C630.3,1412.0 630.7,1407.3 632.0,1405.0 C633.3,1402.7 635.3,1399.2 636.0,1398.0" fill="none" stroke="#141414" stroke-width="3" />
<path d="M614,1370 L618,1385 L624,1395 L628,1385" fill="none" stroke="#141414" stroke-width="3" />
<path d="M610.0,1420.0 C610.3,1423.3 611.3,1434.2 612.0,1440.0 C612.7,1445.8 613.7,1452.5 614.0,1455.0" fill="none" stroke="#141414" stroke-width="2.6" />
<path d="M630.0,1495.0 C631.7,1494.2 636.7,1491.8 640.0,1490.0 C643.3,1488.2 648.3,1485.0 650.0,1484.0" fill="none" stroke="#141414" stroke-width="2.6" />
<path d="M634.0,1505.0 C635.8,1504.2 641.7,1501.8 645.0,1500.0 C648.3,1498.2 652.5,1495.0 654.0,1494.0" fill="none" stroke="#141414" stroke-width="2.6" />
<path d="M572,1490 L634,1437" fill="none" stroke="#141414" stroke-width="3.2" />
<path d="M907.1119867240952,1143.2472655643855 L935.7132333596211,1120.7129500333651 L928.2867666403789,1111.2870499666349 L899.6855200048531,1133.8213654976553" fill="none" stroke="#141414" stroke-width="3.6" />
<line x1="906.8382333596211" y1="1143.4629500333651" x2="901.3754958209478" y2="1132.489869400126" stroke="#141414" stroke-width="2.6" />
<line x1="910.9632333596211" y1="1140.2129500333651" x2="905.5004958209478" y2="1129.239869400126" stroke="#141414" stroke-width="2.6" />
<line x1="915.0882333596211" y1="1136.9629500333651" x2="909.6254958209478" y2="1125.989869400126" stroke="#141414" stroke-width="2.6" />
<line x1="919.2132333596211" y1="1133.7129500333651" x2="913.7504958209478" y2="1122.739869400126" stroke="#141414" stroke-width="2.6" />
<line x1="923.3382333596211" y1="1130.4629500333651" x2="917.8754958209478" y2="1119.489869400126" stroke="#141414" stroke-width="2.6" />
<line x1="927.4632333596211" y1="1127.2129500333651" x2="922.0004958209478" y2="1116.239869400126" stroke="#141414" stroke-width="2.6" />
<line x1="931.5882333596211" y1="1123.9629500333651" x2="926.1254958209478" y2="1112.989869400126" stroke="#141414" stroke-width="2.6" />
<ellipse cx="899" cy="1142" rx="10.08" ry="17.5" transform="rotate(-15 899 1142)" fill="#fff" stroke="#141414" stroke-width="3.8" />
<path d="M897.0,1136.0 C896.7,1137.3 894.8,1141.7 895.0,1144.0 C895.2,1146.3 897.5,1149.0 898.0,1150.0" fill="none" stroke="#141414" stroke-width="2.4" />
<path d="M1010.1297941512179,1126.1253653001686 L1037.7835557505668,1103.6566840006976 L1030.2164442494332,1094.3433159993024 L1002.5626826500842,1116.8119972987733" fill="none" stroke="#141414" stroke-width="3.6" />
<line x1="1009.7835557505668" y1="1126.4066840006976" x2="1004.1567292497239" y2="1115.5168344365661" stroke="#141414" stroke-width="2.6" />
<line x1="1013.7835557505668" y1="1123.1566840006976" x2="1008.1567292497239" y2="1112.2668344365661" stroke="#141414" stroke-width="2.6" />
<line x1="1017.7835557505668" y1="1119.9066840006976" x2="1012.1567292497239" y2="1109.0168344365661" stroke="#141414" stroke-width="2.6" />
<line x1="1021.7835557505668" y1="1116.6566840006976" x2="1016.1567292497239" y2="1105.7668344365661" stroke="#141414" stroke-width="2.6" />
<line x1="1025.7835557505668" y1="1113.4066840006976" x2="1020.1567292497239" y2="1102.5168344365661" stroke="#141414" stroke-width="2.6" />
<line x1="1029.7835557505668" y1="1110.1566840006976" x2="1024.1567292497239" y2="1099.2668344365661" stroke="#141414" stroke-width="2.6" />
<line x1="1033.7835557505668" y1="1106.9066840006976" x2="1028.1567292497239" y2="1096.0168344365661" stroke="#141414" stroke-width="2.6" />
<ellipse cx="1002" cy="1125" rx="10.08" ry="17.5" transform="rotate(-15 1002 1125)" fill="#fff" stroke="#141414" stroke-width="3.8" />
<path d="M1000.0,1119.0 C999.7,1120.3 997.8,1124.7 998.0,1127.0 C998.2,1129.3 1000.5,1132.0 1001.0,1133.0" fill="none" stroke="#141414" stroke-width="2.4" />
<path d="M882.177492347219,1236.6990128118816 L909.0217175478126,1212.4526158565068 L900.9782824521874,1203.5473841434932 L874.1340572515937,1227.793781098868" fill="none" stroke="#141414" stroke-width="3.6" />
<line x1="881.8967175478126" y1="1236.9526158565068" x2="875.7085390590653" y2="1226.3716684985714" stroke="#141414" stroke-width="2.6" />
<line x1="885.7717175478126" y1="1233.4526158565068" x2="879.5835390590653" y2="1222.8716684985714" stroke="#141414" stroke-width="2.6" />
<line x1="889.6467175478126" y1="1229.9526158565068" x2="883.4585390590653" y2="1219.3716684985714" stroke="#141414" stroke-width="2.6" />
<line x1="893.5217175478126" y1="1226.4526158565068" x2="887.3335390590653" y2="1215.8716684985714" stroke="#141414" stroke-width="2.6" />
<line x1="897.3967175478126" y1="1222.9526158565068" x2="891.2085390590653" y2="1212.3716684985714" stroke="#141414" stroke-width="2.6" />
<line x1="901.2717175478126" y1="1219.4526158565068" x2="895.0835390590653" y2="1208.8716684985714" stroke="#141414" stroke-width="2.6" />
<line x1="905.1467175478126" y1="1215.9526158565068" x2="898.9585390590653" y2="1205.3716684985714" stroke="#141414" stroke-width="2.6" />
<ellipse cx="874" cy="1236" rx="10.08" ry="17.5" transform="rotate(-15 874 1236)" fill="#fff" stroke="#141414" stroke-width="3.8" />
<path d="M872.0,1230.0 C871.7,1231.3 869.8,1235.7 870.0,1238.0 C870.2,1240.3 872.5,1243.0 873.0,1244.0" fill="none" stroke="#141414" stroke-width="2.4" />
<path d="M1007.177492347219,1208.6990128118816 L1034.0217175478126,1184.4526158565068 L1025.9782824521874,1175.5473841434932 L999.1340572515937,1199.793781098868" fill="none" stroke="#141414" stroke-width="3.6" />
<line x1="1006.8967175478126" y1="1208.9526158565068" x2="1000.7085390590653" y2="1198.3716684985714" stroke="#141414" stroke-width="2.6" />
<line x1="1010.7717175478126" y1="1205.4526158565068" x2="1004.5835390590653" y2="1194.8716684985714" stroke="#141414" stroke-width="2.6" />
<line x1="1014.6467175478126" y1="1201.9526158565068" x2="1008.4585390590653" y2="1191.3716684985714" stroke="#141414" stroke-width="2.6" />
<line x1="1018.5217175478126" y1="1198.4526158565068" x2="1012.3335390590653" y2="1187.8716684985714" stroke="#141414" stroke-width="2.6" />
<line x1="1022.3967175478126" y1="1194.9526158565068" x2="1016.2085390590653" y2="1184.3716684985714" stroke="#141414" stroke-width="2.6" />
<line x1="1026.2717175478126" y1="1191.4526158565068" x2="1020.0835390590653" y2="1180.8716684985714" stroke="#141414" stroke-width="2.6" />
<line x1="1030.1467175478126" y1="1187.9526158565068" x2="1023.9585390590653" y2="1177.3716684985714" stroke="#141414" stroke-width="2.6" />
<ellipse cx="999" cy="1208" rx="10.08" ry="17.5" transform="rotate(-15 999 1208)" fill="#fff" stroke="#141414" stroke-width="3.8" />
<path d="M997.0,1202.0 C996.7,1203.3 994.8,1207.7 995.0,1210.0 C995.2,1212.3 997.5,1215.0 998.0,1216.0" fill="none" stroke="#141414" stroke-width="2.4" />
<ellipse cx="956" cy="1098" rx="13" ry="22" transform="rotate(-12 956 1098)" fill="#fff" stroke="#141414" stroke-width="3.8" />
<ellipse cx="957" cy="1098" rx="6" ry="10" transform="rotate(-12 957 1098)" fill="none" stroke="#141414" stroke-width="2.6" />
<line x1="962.7955549577345" y1="1100.5881904510252" x2="967.6251840891797" y2="1102.917561856948" stroke="#141414" stroke-width="2.4" />
<line x1="958.5529142706151" y1="1107.6592582628907" x2="959.8470094961277" y2="1116.3525906994923" stroke="#141414" stroke-width="2.4" />
<line x1="952.7573593128807" y1="1105.0710678118655" x2="949.221825406948" y2="1111.4350288425444" stroke="#141414" stroke-width="2.4" />
<line x1="951.2044450422655" y1="1095.4118095489748" x2="946.3748159108203" y2="1093.082438143052" stroke="#141414" stroke-width="2.4" />
<line x1="955.4470857293849" y1="1088.3407417371093" x2="954.1529905038723" y2="1079.6474093005077" stroke="#141414" stroke-width="2.4" />
<line x1="961.2426406871193" y1="1090.9289321881345" x2="964.778174593052" y2="1084.5649711574556" stroke="#141414" stroke-width="2.4" />
<line x1="971" y1="1088" x2="982" y2="1078" stroke="#333" stroke-width="2.4" stroke-dasharray="4 3"/>
<line x1="926" y1="1116" x2="941" y2="1107" stroke="#333" stroke-width="2.4" stroke-dasharray="4 3"/>
<ellipse cx="1055" cy="1081" rx="13" ry="22" transform="rotate(-12 1055 1081)" fill="#fff" stroke="#141414" stroke-width="3.8" />
<ellipse cx="1056" cy="1081" rx="6" ry="10" transform="rotate(-12 1056 1081)" fill="none" stroke="#141414" stroke-width="2.6" />
<line x1="1061.7955549577343" y1="1083.5881904510252" x2="1066.6251840891798" y2="1085.917561856948" stroke="#141414" stroke-width="2.4" />
<line x1="1057.552914270615" y1="1090.6592582628907" x2="1058.8470094961278" y2="1099.3525906994923" stroke="#141414" stroke-width="2.4" />
<line x1="1051.7573593128807" y1="1088.0710678118655" x2="1048.221825406948" y2="1094.4350288425444" stroke="#141414" stroke-width="2.4" />
<line x1="1050.2044450422657" y1="1078.4118095489748" x2="1045.3748159108202" y2="1076.082438143052" stroke="#141414" stroke-width="2.4" />
<line x1="1054.447085729385" y1="1071.3407417371093" x2="1053.1529905038722" y2="1062.6474093005077" stroke="#141414" stroke-width="2.4" />
<line x1="1060.2426406871193" y1="1073.9289321881345" x2="1063.778174593052" y2="1067.5649711574556" stroke="#141414" stroke-width="2.4" />
<line x1="1070" y1="1071" x2="1081" y2="1061" stroke="#333" stroke-width="2.4" stroke-dasharray="4 3"/>
<line x1="1025" y1="1099" x2="1040" y2="1090" stroke="#333" stroke-width="2.4" stroke-dasharray="4 3"/>
<ellipse cx="926" cy="1190" rx="13" ry="22" transform="rotate(-12 926 1190)" fill="#fff" stroke="#141414" stroke-width="3.8" />
<ellipse cx="927" cy="1190" rx="6" ry="10" transform="rotate(-12 927 1190)" fill="none" stroke="#141414" stroke-width="2.6" />
<line x1="932.7955549577345" y1="1192.5881904510252" x2="937.6251840891797" y2="1194.917561856948" stroke="#141414" stroke-width="2.4" />
<line x1="928.5529142706151" y1="1199.6592582628907" x2="929.8470094961277" y2="1208.3525906994923" stroke="#141414" stroke-width="2.4" />
<line x1="922.7573593128807" y1="1197.0710678118655" x2="919.221825406948" y2="1203.4350288425444" stroke="#141414" stroke-width="2.4" />
<line x1="921.2044450422655" y1="1187.4118095489748" x2="916.3748159108203" y2="1185.082438143052" stroke="#141414" stroke-width="2.4" />
<line x1="925.4470857293849" y1="1180.3407417371093" x2="924.1529905038723" y2="1171.6474093005077" stroke="#141414" stroke-width="2.4" />
<line x1="931.2426406871193" y1="1182.9289321881345" x2="934.778174593052" y2="1176.5649711574556" stroke="#141414" stroke-width="2.4" />
<line x1="941" y1="1180" x2="952" y2="1170" stroke="#333" stroke-width="2.4" stroke-dasharray="4 3"/>
<line x1="896" y1="1208" x2="911" y2="1199" stroke="#333" stroke-width="2.4" stroke-dasharray="4 3"/>
<ellipse cx="1054" cy="1158" rx="13" ry="22" transform="rotate(-12 1054 1158)" fill="#fff" stroke="#141414" stroke-width="3.8" />
<ellipse cx="1055" cy="1158" rx="6" ry="10" transform="rotate(-12 1055 1158)" fill="none" stroke="#141414" stroke-width="2.6" />
<line x1="1060.7955549577343" y1="1160.5881904510252" x2="1065.6251840891798" y2="1162.917561856948" stroke="#141414" stroke-width="2.4" />
<line x1="1056.552914270615" y1="1167.6592582628907" x2="1057.8470094961278" y2="1176.3525906994923" stroke="#141414" stroke-width="2.4" />
<line x1="1050.7573593128807" y1="1165.0710678118655" x2="1047.221825406948" y2="1171.4350288425444" stroke="#141414" stroke-width="2.4" />
<line x1="1049.2044450422657" y1="1155.4118095489748" x2="1044.3748159108202" y2="1153.082438143052" stroke="#141414" stroke-width="2.4" />
<line x1="1053.447085729385" y1="1148.3407417371093" x2="1052.1529905038722" y2="1139.6474093005077" stroke="#141414" stroke-width="2.4" />
<line x1="1059.2426406871193" y1="1150.9289321881345" x2="1062.778174593052" y2="1144.5649711574556" stroke="#141414" stroke-width="2.4" />
<line x1="1069" y1="1148" x2="1080" y2="1138" stroke="#333" stroke-width="2.4" stroke-dasharray="4 3"/>
<line x1="1024" y1="1176" x2="1039" y2="1167" stroke="#333" stroke-width="2.4" stroke-dasharray="4 3"/>
<line x1="902" y1="1097" x2="902" y2="1124" stroke="#4a4a4a" stroke-width="3" />
<line x1="1005" y1="1090" x2="1005" y2="1108" stroke="#4a4a4a" stroke-width="3" />
<line x1="1016" y1="1207" x2="1016" y2="1240" stroke="#4a4a4a" stroke-width="3" />
<line x1="899" y1="1225" x2="899" y2="1302" stroke="#4a4a4a" stroke-width="3" />
<line x1="952" y1="1001" x2="952" y2="1077" stroke="#4a4a4a" stroke-width="3" />
<line x1="1044" y1="1005" x2="1044" y2="1065" stroke="#4a4a4a" stroke-width="3" />
<line x1="1067" y1="1166" x2="1099" y2="1166" stroke="#4a4a4a" stroke-width="3" />
<path d="M940.0,1200.0 C940.7,1202.0 943.2,1208.3 944.0,1212.0 C944.8,1215.7 944.8,1220.3 945.0,1222.0" fill="none" stroke="#4a4a4a" stroke-width="2.6" />
<text transform="translate(883.3,1080.0) scale(0.66,1)" font-size="54" fill="#111" stroke="#111" stroke-width="1.0">2</text>
<text transform="translate(903.1,1080.0) scale(0.66,1)" font-size="54" fill="#111" stroke="#111" stroke-width="1.0">2</text>
<text transform="translate(987.3,1073.0) scale(0.66,1)" font-size="54" fill="#111" stroke="#111" stroke-width="1.0">2</text>
<text transform="translate(1007.1,1073.0) scale(0.66,1)" font-size="54" fill="#111" stroke="#111" stroke-width="1.0">2</text>
<text transform="translate(998.3,1294.0) scale(0.66,1)" font-size="54" fill="#111" stroke="#111" stroke-width="1.0">2</text>
<text transform="translate(1018.1,1294.0) scale(0.66,1)" font-size="54" fill="#111" stroke="#111" stroke-width="1.0">2</text>
<text transform="translate(879.3,1360.0) scale(0.66,1)" font-size="54" fill="#111" stroke="#111" stroke-width="1.0">2</text>
<text transform="translate(899.1,1360.0) scale(0.66,1)" font-size="54" fill="#111" stroke="#111" stroke-width="1.0">2</text>
<text transform="translate(934.3,983.0) scale(0.66,1)" font-size="54" fill="#111" stroke="#111" stroke-width="1.0">2</text>
<text transform="translate(954.1,983.0) scale(0.66,1)" font-size="54" fill="#111" stroke="#111" stroke-width="1.0">6</text>
<text transform="translate(1024.3,988.0) scale(0.66,1)" font-size="54" fill="#111" stroke="#111" stroke-width="1.0">2</text>
<text transform="translate(1044.1,988.0) scale(0.66,1)" font-size="54" fill="#111" stroke="#111" stroke-width="1.0">6</text>
<text transform="translate(1108.3,1189.0) scale(0.66,1)" font-size="54" fill="#111" stroke="#111" stroke-width="1.0">2</text>
<text transform="translate(1128.1,1189.0) scale(0.66,1)" font-size="54" fill="#111" stroke="#111" stroke-width="1.0">6</text>
<text transform="translate(927.3,1274.0) scale(0.66,1)" font-size="54" fill="#111" stroke="#111" stroke-width="1.0">2</text>
<text transform="translate(947.1,1274.0) scale(0.66,1)" font-size="54" fill="#111" stroke="#111" stroke-width="1.0">6</text>
<ellipse cx="1158" cy="986" rx="76" ry="150" transform="rotate(-10 1158 986)" fill="#fff" stroke="#141414" stroke-width="4" />
<path d="M1112.0,847.0 C1118.3,848.0 1138.7,847.8 1150.0,853.0 C1161.3,858.2 1171.3,868.2 1180.0,878.0 C1188.7,887.8 1196.0,899.2 1202.0,912.0 C1208.0,924.8 1212.5,940.3 1216.0,955.0 C1219.5,969.7 1222.2,984.2 1223.0,1000.0 C1223.8,1015.8 1222.8,1034.7 1221.0,1050.0 C1219.2,1065.3 1215.8,1080.7 1212.0,1092.0 C1208.2,1103.3 1200.3,1113.7 1198.0,1118.0" fill="none" stroke="#141414" stroke-width="2.8" />
<path d="M1082.0,965.0 C1083.3,974.2 1086.2,1003.3 1090.0,1020.0 C1093.8,1036.7 1099.2,1051.7 1105.0,1065.0 C1110.8,1078.3 1118.3,1090.8 1125.0,1100.0 C1131.7,1109.2 1141.7,1116.7 1145.0,1120.0" fill="none" stroke="#141414" stroke-width="3.2" />
<ellipse cx="1136" cy="1005" rx="47" ry="96" transform="rotate(-12 1136 1005)" fill="none" stroke="#141414" stroke-width="2.6" stroke-dasharray="6 3"/>
<path d="M1178.0,993.9 C1178.5,995.9 1178.5,998.1 1178.4,1000.1 C1178.2,1002.1 1177.6,1004.1 1177.2,1005.9 C1176.7,1007.8 1176.0,1009.4 1175.7,1011.1 C1175.4,1012.8 1175.1,1014.3 1175.2,1016.0 C1175.3,1017.8 1175.7,1019.6 1176.2,1021.6 C1176.8,1023.6 1177.7,1025.9 1178.4,1028.2 C1179.0,1030.5 1179.9,1033.0 1180.2,1035.2 C1180.6,1037.4 1180.8,1039.7 1180.5,1041.4 C1180.3,1043.1 1179.6,1044.6 1178.8,1045.7 C1178.1,1046.7 1176.8,1047.3 1175.8,1047.9 C1174.7,1048.5 1173.5,1048.7 1172.6,1049.3 C1171.7,1050.0 1171.0,1050.6 1170.5,1051.8 C1170.0,1053.0 1169.9,1054.7 1169.7,1056.5 C1169.6,1058.4 1169.8,1060.9 1169.7,1063.1 C1169.6,1065.3 1169.6,1067.8 1169.3,1069.6 C1168.9,1071.4 1168.3,1073.0 1167.6,1073.8 C1166.8,1074.7 1165.6,1074.8 1164.5,1074.5 C1163.4,1074.3 1161.9,1073.2 1160.7,1072.3 C1159.5,1071.5 1158.2,1070.1 1157.1,1069.5 C1156.0,1068.9 1155.0,1068.4 1154.2,1068.6 C1153.3,1068.8 1152.6,1069.6 1151.9,1070.6 C1151.1,1071.6 1150.5,1073.4 1149.7,1074.7 C1148.9,1075.9 1148.1,1077.5 1147.1,1078.2 C1146.2,1078.9 1145.1,1079.3 1144.1,1078.8 C1143.0,1078.4 1141.8,1077.2 1140.8,1075.7 C1139.7,1074.2 1138.7,1071.9 1137.7,1069.9 C1136.8,1067.9 1135.9,1065.6 1135.0,1063.9 C1134.1,1062.3 1133.3,1060.8 1132.4,1059.9 C1131.5,1059.0 1130.5,1058.8 1129.5,1058.5 C1128.4,1058.3 1127.2,1058.6 1126.0,1058.5 C1124.8,1058.3 1123.4,1058.3 1122.3,1057.7 C1121.1,1057.0 1119.9,1056.0 1119.0,1054.5 C1118.1,1053.0 1117.3,1050.9 1116.8,1048.7 C1116.2,1046.5 1115.9,1043.9 1115.6,1041.5 C1115.3,1039.2 1115.2,1036.7 1114.9,1034.7 C1114.5,1032.6 1114.2,1030.8 1113.6,1029.1 C1112.9,1027.5 1112.1,1026.2 1111.1,1024.8 C1110.1,1023.4 1108.8,1022.2 1107.6,1020.7 C1106.5,1019.2 1105.1,1017.7 1104.2,1015.9 C1103.2,1014.1 1102.4,1012.1 1102.0,1010.1 C1101.5,1008.1 1101.5,1005.9 1101.6,1003.9 C1101.8,1001.9 1102.4,999.9 1102.8,998.1 C1103.3,996.2 1104.0,994.6 1104.3,992.9 C1104.6,991.2 1104.9,989.7 1104.8,988.0 C1104.7,986.2 1104.3,984.4 1103.8,982.4 C1103.2,980.4 1102.3,978.1 1101.6,975.8 C1101.0,973.5 1100.1,971.0 1099.8,968.8 C1099.4,966.6 1099.2,964.3 1099.5,962.6 C1099.7,960.9 1100.4,959.4 1101.2,958.3 C1101.9,957.3 1103.2,956.7 1104.2,956.1 C1105.3,955.5 1106.5,955.3 1107.4,954.7 C1108.3,954.0 1109.0,953.4 1109.5,952.2 C1110.0,951.0 1110.1,949.3 1110.3,947.5 C1110.4,945.6 1110.2,943.1 1110.3,940.9 C1110.4,938.7 1110.4,936.2 1110.7,934.4 C1111.1,932.6 1111.7,931.0 1112.4,930.2 C1113.2,929.3 1114.4,929.2 1115.5,929.5 C1116.6,929.7 1118.1,930.8 1119.3,931.7 C1120.5,932.5 1121.8,933.9 1122.9,934.5 C1124.0,935.1 1125.0,935.6 1125.8,935.4 C1126.7,935.2 1127.4,934.4 1128.1,933.4 C1128.9,932.4 1129.5,930.6 1130.3,929.3 C1131.1,928.1 1131.9,926.5 1132.9,925.8 C1133.8,925.1 1134.9,924.7 1135.9,925.2 C1137.0,925.6 1138.2,926.8 1139.2,928.3 C1140.3,929.8 1141.3,932.1 1142.3,934.1 C1143.2,936.1 1144.1,938.4 1145.0,940.1 C1145.9,941.7 1146.7,943.2 1147.6,944.1 C1148.5,945.0 1149.5,945.2 1150.5,945.5 C1151.6,945.7 1152.8,945.4 1154.0,945.5 C1155.2,945.7 1156.6,945.7 1157.7,946.3 C1158.9,947.0 1160.1,948.0 1161.0,949.5 C1161.9,951.0 1162.7,953.1 1163.2,955.3 C1163.8,957.5 1164.1,960.1 1164.4,962.5 C1164.7,964.8 1164.8,967.3 1165.1,969.3 C1165.5,971.4 1165.8,973.2 1166.4,974.9 C1167.1,976.5 1167.9,977.8 1168.9,979.2 C1169.9,980.6 1171.2,981.8 1172.4,983.3 C1173.5,984.8 1174.9,986.3 1175.8,988.1 C1176.8,989.9 1177.6,991.9 1178.0,993.9 Z" fill="none" stroke="#141414" stroke-width="3" />
<ellipse cx="1171.9" cy="1014.8" rx="3.5" ry="5" transform="rotate(0 1171.9 1014.8)" fill="none" stroke="#141414" stroke-width="2.4" />
<ellipse cx="1167.7" cy="1047.4" rx="3.5" ry="5" transform="rotate(0 1167.7 1047.4)" fill="none" stroke="#141414" stroke-width="2.4" />
<ellipse cx="1152.9" cy="1062.6" rx="3.5" ry="5" transform="rotate(0 1152.9 1062.6)" fill="none" stroke="#141414" stroke-width="2.4" />
<ellipse cx="1133.2" cy="1054.7" rx="3.5" ry="5" transform="rotate(0 1133.2 1054.7)" fill="none" stroke="#141414" stroke-width="2.4" />
<ellipse cx="1116.1" cy="1026.7" rx="3.5" ry="5" transform="rotate(0 1116.1 1026.7)" fill="none" stroke="#141414" stroke-width="2.4" />
<ellipse cx="1108.1" cy="989.2" rx="3.5" ry="5" transform="rotate(0 1108.1 989.2)" fill="none" stroke="#141414" stroke-width="2.4" />
<ellipse cx="1112.3" cy="956.6" rx="3.5" ry="5" transform="rotate(0 1112.3 956.6)" fill="none" stroke="#141414" stroke-width="2.4" />
<ellipse cx="1127.1" cy="941.4" rx="3.5" ry="5" transform="rotate(0 1127.1 941.4)" fill="none" stroke="#141414" stroke-width="2.4" />
<ellipse cx="1146.8" cy="949.3" rx="3.5" ry="5" transform="rotate(0 1146.8 949.3)" fill="none" stroke="#141414" stroke-width="2.4" />
<ellipse cx="1163.9" cy="977.3" rx="3.5" ry="5" transform="rotate(0 1163.9 977.3)" fill="none" stroke="#141414" stroke-width="2.4" />
<ellipse cx="1145" cy="998" rx="21" ry="44" transform="rotate(-12 1145 998)" fill="#fff" stroke="#141414" stroke-width="3.6" />
<ellipse cx="1137" cy="901" rx="12" ry="24" transform="rotate(-12 1137 901)" fill="none" stroke="#141414" stroke-width="3.2" />
<line x1="1136" y1="890" x2="1140" y2="906" stroke="#141414" stroke-width="2" />
<ellipse cx="1198" cy="955" rx="14" ry="24" transform="rotate(-12 1198 955)" fill="none" stroke="#141414" stroke-width="3.4" />
<ellipse cx="1198" cy="955" rx="7" ry="11" transform="rotate(-12 1198 955)" fill="none" stroke="#141414" stroke-width="2.6" />
<ellipse cx="1092" cy="892" rx="8" ry="17" transform="rotate(-12 1092 892)" fill="none" stroke="#141414" stroke-width="3.2" />
<ellipse cx="1092" cy="892" rx="3" ry="6" transform="rotate(-12 1092 892)" fill="none" stroke="#141414" stroke-width="2.2" />
<ellipse cx="1188" cy="1091" rx="10" ry="19" transform="rotate(-12 1188 1091)" fill="none" stroke="#141414" stroke-width="3.4" />
<line x1="1186" y1="1083" x2="1191" y2="1098" stroke="#141414" stroke-width="2" />
<line x1="1145" y1="807" x2="1145" y2="835" stroke="#4a4a4a" stroke-width="2.5" />
<path d="M1135.5,763 L1140.5,757.5 L1140.5,781.5" fill="none" stroke="#151515" stroke-width="3.4" stroke-linecap="butt"/>
<text transform="translate(1145,781.5) scale(0.6,1)" font-size="34" fill="#151515" stroke="#151515" stroke-width="0.6">5</text>
<path d="M1248,702 L1308,656 L1319,666 L1337,684" fill="none" stroke="#141414" stroke-width="4.2" />
<path d="M1337,684 L1323,701 L1322,708" fill="none" stroke="#141414" stroke-width="4" />
<line x1="1317" y1="670" x2="1262" y2="718" stroke="#141414" stroke-width="2.6" stroke-dasharray="4 3"/>
<path d="M1248.0,702.0 C1247.3,703.0 1244.8,705.3 1244.0,708.0 C1243.2,710.7 1242.8,715.0 1243.0,718.0 C1243.2,721.0 1243.8,723.7 1245.0,726.0 C1246.2,728.3 1248.8,729.3 1250.0,732.0 C1251.2,734.7 1251.7,736.0 1252.0,742.0 C1252.3,748.0 1252.0,763.7 1252.0,768.0" fill="none" stroke="#141414" stroke-width="3.6" />
<ellipse cx="1251" cy="718" rx="5" ry="5" transform="rotate(0 1251 718)" fill="none" stroke="#141414" stroke-width="2.6" />
<path d="M1256,705 L1262,722" fill="none" stroke="#141414" stroke-width="3" />
<line x1="1262" y1="722" x2="1300" y2="752" stroke="#141414" stroke-width="2.8" stroke-dasharray="6 3"/>
<path d="M1251,741 L1238,751 L1237,890" fill="none" stroke="#141414" stroke-width="3.6" />
<path d="M1337.0,684.0 C1340.2,682.2 1348.0,674.2 1356.0,673.0 C1364.0,671.8 1374.8,675.5 1385.0,677.0 C1395.2,678.5 1411.7,681.2 1417.0,682.0" fill="none" stroke="#141414" stroke-width="4" />
<path d="M1417,682 L1455,710 L1517,770 L1550,815 L1600,880 L1650,942 L1698,1005" fill="none" stroke="#141414" stroke-width="4.2" />
<path d="M1698.0,1005.0 C1699.5,1006.7 1704.8,1010.5 1707.0,1015.0 C1709.2,1019.5 1710.3,1029.2 1711.0,1032.0" fill="none" stroke="#141414" stroke-width="4.2" />
<line x1="1711" y1="1032" x2="1711" y2="1168" stroke="#141414" stroke-width="4.2" />
<path d="M1711.0,1168.0 C1710.0,1170.3 1711.8,1174.3 1705.0,1182.0 C1698.2,1189.7 1677.5,1207.7 1670.0,1214.0 C1662.5,1220.3 1663.3,1219.7 1660.0,1220.0 C1656.7,1220.3 1651.7,1216.7 1650.0,1216.0" fill="none" stroke="#141414" stroke-width="4.2" />
<path d="M1650,1216 L1600,1190 L1550,1166 L1507,1146 L1472,1130 L1426,1110 L1380,1081 L1362,1068 L1350,1055 L1335,1030 L1320,1003 L1305,988 L1280,965 L1262,957" fill="none" stroke="#141414" stroke-width="4" />
<path d="M1369,1042 L1380,1047 L1412,1066 L1426,1080 L1472,1111" fill="none" stroke="#141414" stroke-width="3.2" />
<path d="M1412.0,1066.0 C1412.7,1067.0 1414.3,1069.7 1416.0,1072.0 C1417.7,1074.3 1420.0,1079.0 1422.0,1080.0 C1424.0,1081.0 1427.0,1078.3 1428.0,1078.0" fill="none" stroke="#141414" stroke-width="2.6" />
<path d="M1474,1112 L1505,1119 L1506,1147" fill="none" stroke="#141414" stroke-width="3" />
<line x1="1417" y1="684" x2="1380" y2="718" stroke="#141414" stroke-width="2.8" stroke-dasharray="6 3"/>
<line x1="1485" y1="743" x2="1449" y2="776" stroke="#141414" stroke-width="2.8" stroke-dasharray="6 3"/>
<path d="M1306,693 L1322,708" fill="none" stroke="#141414" stroke-width="2.8" />
<path d="M1380,720 L1442,779 L1499,857 L1515,877 L1600,968 L1665,1045 L1669,1058" fill="none" stroke="#141414" stroke-width="3" />
<line x1="1669" y1="1058" x2="1706" y2="1030" stroke="#141414" stroke-width="3" />
<line x1="1669" y1="1060" x2="1669" y2="1217" stroke="#141414" stroke-width="2.8" stroke-dasharray="12 3"/>
<line x1="1474" y1="900" x2="1474" y2="1112" stroke="#141414" stroke-width="2.8" stroke-dasharray="12 3"/>
<line x1="1522" y1="888" x2="1522" y2="1143" stroke="#141414" stroke-width="3.4" />
<ellipse cx="1627" cy="1115" rx="8" ry="17" transform="rotate(-10 1627 1115)" fill="none" stroke="#141414" stroke-width="3.2" />
<line x1="1623" y1="1108" x2="1630" y2="1122" stroke="#141414" stroke-width="2" />
<path d="M1322.0,708.0 C1322.0,712.5 1320.7,728.3 1322.0,735.0 C1323.3,741.7 1325.8,743.3 1330.0,748.0 C1334.2,752.7 1344.2,760.5 1347.0,763.0" fill="none" stroke="#141414" stroke-width="3.2" />
<path d="M1378.0,816.0 C1378.0,808.3 1377.5,778.7 1378.0,770.0 C1378.5,761.3 1378.5,765.3 1381.0,764.0 C1383.5,762.7 1390.2,760.7 1393.0,762.0 C1395.8,763.3 1396.8,765.0 1398.0,772.0 C1399.2,779.0 1399.7,798.7 1400.0,804.0" fill="none" stroke="#141414" stroke-width="3.2" />
<path d="M1380,818 L1414,852 L1433,856" fill="none" stroke="#141414" stroke-width="3.2" />
<path d="M1400,804 L1426,832 L1440,839" fill="none" stroke="#141414" stroke-width="3.2" />
<path d="M1433.0,842.0 C1434.2,841.0 1436.8,836.3 1440.0,836.0 C1443.2,835.7 1449.3,837.3 1452.0,840.0 C1454.7,842.7 1456.3,848.7 1456.0,852.0 C1455.7,855.3 1453.0,858.7 1450.0,860.0 C1447.0,861.3 1440.8,861.3 1438.0,860.0 C1435.2,858.7 1433.8,855.0 1433.0,852.0 C1432.2,849.0 1433.0,843.7 1433.0,842.0 C1433.0,840.3 1431.8,843.0 1433.0,842.0 Z" fill="none" stroke="#141414" stroke-width="3.2" />
<path d="M1452,858 L1472,882 L1495,898 L1511,905" fill="none" stroke="#141414" stroke-width="3" />
<path d="M1440,866 L1472,896 L1511,905" fill="none" stroke="#141414" stroke-width="3" />
<ellipse cx="1445" cy="868" rx="2.5" ry="4" transform="rotate(0 1445 868)" fill="none" stroke="#141414" stroke-width="2.4" />
<path d="M1341.0,696.0 C1346.2,696.2 1366.3,696.0 1372.0,697.0 C1377.7,698.0 1375.7,699.8 1375.0,702.0 C1374.3,704.2 1372.2,708.3 1368.0,710.0 C1363.8,711.7 1353.0,711.7 1350.0,712.0" fill="none" stroke="#141414" stroke-width="3.2" />
<path d="M1335.0,718.0 C1336.7,717.5 1342.2,714.3 1345.0,715.0 C1347.8,715.7 1351.8,718.7 1352.0,722.0 C1352.2,725.3 1347.7,731.3 1346.0,735.0 C1344.3,738.7 1343.7,743.5 1342.0,744.0 C1340.3,744.5 1337.5,741.0 1336.0,738.0 C1334.5,735.0 1333.5,728.0 1333.0,726.0" fill="none" stroke="#141414" stroke-width="3" />
<ellipse cx="1354" cy="736" rx="2.5" ry="3" transform="rotate(0 1354 736)" fill="none" stroke="#141414" stroke-width="2.6" />
<ellipse cx="1374" cy="732" rx="6" ry="11" transform="rotate(0 1374 732)" fill="none" stroke="#141414" stroke-width="2.6" />
<ellipse cx="1266" cy="900" rx="28" ry="56" transform="rotate(-12 1266 900)" fill="#fff" stroke="#141414" stroke-width="3.6" />
<path d="M1257.0,845.0 C1260.0,845.5 1269.5,844.7 1275.0,848.0 C1280.5,851.3 1286.0,857.2 1290.0,865.0 C1294.0,872.8 1297.8,884.2 1299.0,895.0 C1300.2,905.8 1299.3,920.5 1297.0,930.0 C1294.7,939.5 1287.0,948.3 1285.0,952.0" fill="none" stroke="#141414" stroke-width="3" />
<ellipse cx="1278.3" cy="846.3" rx="3" ry="4" transform="rotate(0 1278.3 846.3)" fill="none" stroke="#141414" stroke-width="2.2" />
<ellipse cx="1286.1" cy="854.1" rx="3" ry="4" transform="rotate(0 1286.1 854.1)" fill="none" stroke="#141414" stroke-width="2.2" />
<ellipse cx="1292.3" cy="865.7" rx="3" ry="4" transform="rotate(0 1292.3 865.7)" fill="none" stroke="#141414" stroke-width="2.2" />
<ellipse cx="1296.4" cy="880.1" rx="3" ry="4" transform="rotate(0 1296.4 880.1)" fill="none" stroke="#141414" stroke-width="2.2" />
<ellipse cx="1298.0" cy="896.1" rx="3" ry="4" transform="rotate(0 1298.0 896.1)" fill="none" stroke="#141414" stroke-width="2.2" />
<ellipse cx="1297.0" cy="912.2" rx="3" ry="4" transform="rotate(0 1297.0 912.2)" fill="none" stroke="#141414" stroke-width="2.2" />
<ellipse cx="1293.4" cy="927.1" rx="3" ry="4" transform="rotate(0 1293.4 927.1)" fill="none" stroke="#141414" stroke-width="2.2" />
<ellipse cx="1287.7" cy="939.5" rx="3" ry="4" transform="rotate(0 1287.7 939.5)" fill="none" stroke="#141414" stroke-width="2.2" />
<ellipse cx="1280.2" cy="948.2" rx="3" ry="4" transform="rotate(0 1280.2 948.2)" fill="none" stroke="#141414" stroke-width="2.2" />
<path d="M1300.0,836.0 C1303.3,836.7 1315.5,836.0 1320.0,840.0 C1324.5,844.0 1325.0,848.3 1327.0,860.0 C1329.0,871.7 1330.7,898.3 1332.0,910.0 C1333.3,921.7 1336.2,923.3 1335.0,930.0 C1333.8,936.7 1329.2,945.5 1325.0,950.0 C1320.8,954.5 1315.8,956.7 1310.0,957.0 C1304.2,957.3 1293.3,952.8 1290.0,952.0" fill="none" stroke="#141414" stroke-width="3.4" />
<ellipse cx="1260" cy="875" rx="4" ry="5" transform="rotate(0 1260 875)" fill="#222" stroke="#141414" stroke-width="3.4" />
<ellipse cx="1260" cy="905" rx="5" ry="7" transform="rotate(0 1260 905)" fill="none" stroke="#141414" stroke-width="2.6" />
<ellipse cx="1262" cy="935" rx="4" ry="5" transform="rotate(0 1262 935)" fill="#222" stroke="#141414" stroke-width="3.4" />
<ellipse cx="1290" cy="835" rx="7" ry="8" transform="rotate(0 1290 835)" fill="none" stroke="#141414" stroke-width="3" />
<ellipse cx="1261" cy="952" rx="8" ry="9" transform="rotate(0 1261 952)" fill="none" stroke="#141414" stroke-width="3.4" />
<ellipse cx="1307" cy="862" rx="3" ry="5" transform="rotate(0 1307 862)" fill="none" stroke="#141414" stroke-width="2.4" />
<ellipse cx="1308" cy="940" rx="3" ry="4" transform="rotate(0 1308 940)" fill="none" stroke="#141414" stroke-width="2.4" />
<path d="M1250.0,822.0 C1252.0,821.3 1258.7,817.3 1262.0,818.0 C1265.3,818.7 1270.0,823.2 1270.0,826.0 C1270.0,828.8 1263.3,833.5 1262.0,835.0" fill="none" stroke="#141414" stroke-width="3" />
<path d="M1260,812 L1285,790 L1297,798 L1290,810" fill="none" stroke="#141414" stroke-width="3" />
<path d="M1280,800 L1300,786" fill="none" stroke="#141414" stroke-width="2.6" />
<path d="M1322.0,996.0 C1323.0,995.0 1325.5,989.3 1328.0,990.0 C1330.5,990.7 1335.0,996.3 1337.0,1000.0 C1339.0,1003.7 1340.5,1009.3 1340.0,1012.0 C1339.5,1014.7 1336.3,1016.7 1334.0,1016.0 C1331.7,1015.3 1328.0,1011.3 1326.0,1008.0 C1324.0,1004.7 1322.7,998.0 1322.0,996.0 C1321.3,994.0 1321.0,997.0 1322.0,996.0 Z" fill="none" stroke="#141414" stroke-width="3" />
<ellipse cx="1339" cy="1031" rx="6" ry="9" transform="rotate(-20 1339 1031)" fill="none" stroke="#141414" stroke-width="3" />
<ellipse cx="1357" cy="1029" rx="2.5" ry="3.5" transform="rotate(0 1357 1029)" fill="none" stroke="#141414" stroke-width="2.4" />
<ellipse cx="1357" cy="1040" rx="2.5" ry="3.5" transform="rotate(0 1357 1040)" fill="none" stroke="#141414" stroke-width="2.4" />
<path d="M1364,1040 L1370,1032 L1378,1045 L1370,1050" fill="none" stroke="#141414" stroke-width="3" />
<ellipse cx="1345" cy="983" rx="3" ry="5" transform="rotate(0 1345 983)" fill="none" stroke="#141414" stroke-width="2.4" />
<path d="M1300.0,985.0 C1302.5,986.7 1310.0,990.0 1315.0,995.0 C1320.0,1000.0 1325.0,1007.5 1330.0,1015.0 C1335.0,1022.5 1340.0,1032.2 1345.0,1040.0 C1350.0,1047.8 1357.5,1058.3 1360.0,1062.0" fill="none" stroke="#141414" stroke-width="2.6" />
<ellipse cx="1419" cy="1075" rx="5" ry="8" transform="rotate(0 1419 1075)" fill="none" stroke="#141414" stroke-width="2.8" />
<path d="M1722,729 L1741,729 L1741,932 L1642,932" fill="none" stroke="#5a5a5a" stroke-width="3.5" />
<line x1="1645" y1="730" x2="1662" y2="730" stroke="#4a4a4a" stroke-width="4" />
<line x1="1741" y1="830" x2="1791" y2="830" stroke="#333" stroke-width="3" stroke-dasharray="4 2"/>
<path d="M1679.0,719.0 L1686.5,710.8 L1686.5,747.5" fill="none" stroke="#111" stroke-width="4.2" stroke-linecap="butt" stroke-linejoin="miter"/>
<text transform="translate(1694.1,748.0) scale(0.66,1)" font-size="54" fill="#111" stroke="#111" stroke-width="1.0">0</text>
<text transform="translate(1799.3,850.0) scale(0.66,1)" font-size="54" fill="#111" stroke="#111" stroke-width="1.0">2</text>
<path d="M1514.0,574.0 C1515.0,572.2 1517.3,565.8 1520.0,563.0 C1522.7,560.2 1526.3,558.0 1530.0,557.0 C1533.7,556.0 1536.7,554.7 1542.0,557.0 C1547.3,559.3 1554.7,565.8 1562.0,571.0 C1569.3,576.2 1580.0,582.5 1586.0,588.0 C1592.0,593.5 1595.3,598.8 1598.0,604.0 C1600.7,609.2 1601.7,613.7 1602.0,619.0 C1602.3,624.3 1601.5,631.7 1600.0,636.0 C1598.5,640.3 1595.2,642.7 1593.0,645.0 C1590.8,647.3 1588.0,649.2 1587.0,650.0" fill="none" stroke="#141414" stroke-width="4" />
<path d="M1587.0,650.0 C1587.5,651.2 1586.2,652.5 1590.0,657.0 C1593.8,661.5 1603.8,670.2 1610.0,677.0 C1616.2,683.8 1622.2,691.3 1627.0,698.0 C1631.8,704.7 1636.3,711.8 1639.0,717.0 C1641.7,722.2 1643.0,725.3 1643.0,729.0 C1643.0,732.7 1641.0,736.2 1639.0,739.0 C1637.0,741.8 1634.5,743.8 1631.0,746.0 C1627.5,748.2 1620.2,751.0 1618.0,752.0" fill="none" stroke="#141414" stroke-width="4" />
<path d="M1514.0,574.0 C1514.3,581.2 1515.3,602.7 1516.0,617.0 C1516.7,631.3 1518.0,647.2 1518.0,660.0 C1518.0,672.8 1516.7,684.0 1516.0,694.0 C1515.3,704.0 1515.2,714.2 1514.0,720.0 C1512.8,725.8 1508.7,724.7 1509.0,729.0 C1509.3,733.3 1510.7,738.0 1516.0,746.0 C1521.3,754.0 1531.0,768.5 1541.0,777.0 C1551.0,785.5 1567.8,794.0 1576.0,797.0 C1584.2,800.0 1587.7,795.3 1590.0,795.0" fill="none" stroke="#141414" stroke-width="4" />
<path d="M1576.0,797.0 C1576.3,794.2 1578.3,787.0 1578.0,780.0 C1577.7,773.0 1574.3,765.0 1574.0,755.0 C1573.7,745.0 1575.0,730.8 1576.0,720.0 C1577.0,709.2 1578.3,700.0 1580.0,690.0 C1581.7,680.0 1584.8,666.7 1586.0,660.0 C1587.2,653.3 1586.8,651.7 1587.0,650.0" fill="none" stroke="#141414" stroke-width="3.4" />
<path d="M1524.0,581.0 C1526.7,579.3 1530.2,567.5 1540.0,571.0 C1549.8,574.5 1574.5,594.3 1583.0,602.0 C1591.5,609.7 1589.7,614.5 1591.0,617.0" fill="none" stroke="#141414" stroke-width="2.8" />
<path d="M1524.0,585.0 C1523.7,594.2 1521.7,620.8 1522.0,640.0 C1522.3,659.2 1526.0,683.3 1526.0,700.0 C1526.0,716.7 1521.3,731.3 1522.0,740.0 C1522.7,748.7 1528.7,750.0 1530.0,752.0" fill="none" stroke="#141414" stroke-width="2.8" />
<path d="M1532.0,592.0 C1532.3,601.7 1534.3,632.0 1534.0,650.0 C1533.7,668.0 1529.7,683.7 1530.0,700.0 C1530.3,716.3 1535.0,740.0 1536.0,748.0" fill="none" stroke="#141414" stroke-width="2.8" />
<path d="M1547,597 L1564,609 L1555,626 L1547,597" fill="none" stroke="#141414" stroke-width="3" />
<path d="M1542,748 L1554,743 L1557,765 L1542,748" fill="none" stroke="#141414" stroke-width="3" />
<ellipse cx="1549" cy="686" rx="5" ry="26" transform="rotate(0 1549 686)" fill="none" stroke="#141414" stroke-width="3" />
<path d="M1540.0,630.0 C1540.8,635.0 1544.7,648.3 1545.0,660.0 C1545.3,671.7 1542.0,687.5 1542.0,700.0 C1542.0,712.5 1542.8,725.0 1545.0,735.0 C1547.2,745.0 1553.3,755.8 1555.0,760.0" fill="none" stroke="#141414" stroke-width="2.6" />
<path d="M1560.0,625.0 C1562.0,623.3 1568.7,615.0 1572.0,615.0 C1575.3,615.0 1579.7,617.5 1580.0,625.0 C1580.3,632.5 1575.7,647.5 1574.0,660.0 C1572.3,672.5 1570.3,686.7 1570.0,700.0 C1569.7,713.3 1572.3,730.0 1572.0,740.0 C1571.7,750.0 1568.7,756.7 1568.0,760.0" fill="none" stroke="#141414" stroke-width="2.8" />
<path d="M1563.0,640.0 C1562.5,646.7 1560.2,666.7 1560.0,680.0 C1559.8,693.3 1562.0,708.3 1562.0,720.0 C1562.0,731.7 1560.3,745.0 1560.0,750.0" fill="none" stroke="#141414" stroke-width="2.6" />
<path d="M1590.0,676.0 C1591.7,678.3 1598.3,681.0 1600.0,690.0 C1601.7,699.0 1601.2,721.7 1600.0,730.0 C1598.8,738.3 1595.0,741.7 1593.0,740.0 C1591.0,738.3 1588.5,730.7 1588.0,720.0 C1587.5,709.3 1589.7,683.3 1590.0,676.0" fill="none" stroke="#141414" stroke-width="2.8" />
<path d="M1596.0,660.0 C1600.8,666.7 1618.3,689.2 1625.0,700.0 C1631.7,710.8 1635.5,718.0 1636.0,725.0 C1636.5,732.0 1629.3,739.2 1628.0,742.0" fill="none" stroke="#141414" stroke-width="2.6" />
<ellipse cx="1617" cy="727" rx="5" ry="6" transform="rotate(0 1617 727)" fill="none" stroke="#141414" stroke-width="3" />
<path d="M1091.0,95.0 C1091.5,91.7 1091.8,80.7 1094.0,75.0 C1096.2,69.3 1100.3,63.2 1104.0,61.0 C1107.7,58.8 1112.2,59.2 1116.0,62.0 C1119.8,64.8 1123.8,72.3 1127.0,78.0 C1130.2,83.7 1133.2,89.7 1135.0,96.0 C1136.8,102.3 1138.0,109.7 1138.0,116.0 C1138.0,122.3 1137.2,129.0 1135.0,134.0 C1132.8,139.0 1128.5,143.7 1125.0,146.0 C1121.5,148.3 1117.5,149.2 1114.0,148.0 C1110.5,146.8 1106.8,142.7 1104.0,139.0 C1101.2,135.3 1098.3,129.8 1097.0,126.0 C1095.7,122.2 1096.2,117.7 1096.0,116.0" fill="none" stroke="#141414" stroke-width="4" />
<path d="M1106.0,70.0 C1107.7,70.2 1113.0,68.5 1116.0,71.0 C1119.0,73.5 1121.8,79.5 1124.0,85.0 C1126.2,90.5 1128.0,97.8 1129.0,104.0 C1130.0,110.2 1130.5,116.7 1130.0,122.0 C1129.5,127.3 1128.2,133.0 1126.0,136.0 C1123.8,139.0 1119.7,140.2 1117.0,140.0 C1114.3,139.8 1111.2,135.8 1110.0,135.0" fill="none" stroke="#141414" stroke-width="2.8" />
<path d="M1091.0,95.0 C1092.0,95.7 1095.0,99.3 1097.0,99.0 C1099.0,98.7 1101.0,94.7 1103.0,93.0 C1105.0,91.3 1107.0,88.5 1109.0,89.0 C1111.0,89.5 1113.3,92.8 1115.0,96.0 C1116.7,99.2 1118.2,103.8 1119.0,108.0 C1119.8,112.2 1120.7,117.5 1120.0,121.0 C1119.3,124.5 1117.0,128.5 1115.0,129.0 C1113.0,129.5 1109.8,126.5 1108.0,124.0 C1106.2,121.5 1105.5,116.3 1104.0,114.0 C1102.5,111.7 1100.3,109.7 1099.0,110.0 C1097.7,110.3 1096.5,115.0 1096.0,116.0" fill="none" stroke="#141414" stroke-width="3.4" />
<path d="M1147.0,90.0 C1147.5,86.7 1147.8,75.7 1150.0,70.0 C1152.2,64.3 1156.3,58.2 1160.0,56.0 C1163.7,53.8 1168.2,54.2 1172.0,57.0 C1175.8,59.8 1179.8,67.3 1183.0,73.0 C1186.2,78.7 1189.2,84.7 1191.0,91.0 C1192.8,97.3 1194.0,104.7 1194.0,111.0 C1194.0,117.3 1193.2,124.0 1191.0,129.0 C1188.8,134.0 1184.5,138.7 1181.0,141.0 C1177.5,143.3 1173.5,144.2 1170.0,143.0 C1166.5,141.8 1162.8,137.7 1160.0,134.0 C1157.2,130.3 1154.3,124.8 1153.0,121.0 C1151.7,117.2 1152.2,112.7 1152.0,111.0" fill="none" stroke="#141414" stroke-width="4" />
<path d="M1162.0,65.0 C1163.7,65.2 1169.0,63.5 1172.0,66.0 C1175.0,68.5 1177.8,74.5 1180.0,80.0 C1182.2,85.5 1184.0,92.8 1185.0,99.0 C1186.0,105.2 1186.5,111.7 1186.0,117.0 C1185.5,122.3 1184.2,128.0 1182.0,131.0 C1179.8,134.0 1175.7,135.2 1173.0,135.0 C1170.3,134.8 1167.2,130.8 1166.0,130.0" fill="none" stroke="#141414" stroke-width="2.8" />
<path d="M1147.0,90.0 C1148.0,90.7 1151.0,94.3 1153.0,94.0 C1155.0,93.7 1157.0,89.7 1159.0,88.0 C1161.0,86.3 1163.0,83.5 1165.0,84.0 C1167.0,84.5 1169.3,87.8 1171.0,91.0 C1172.7,94.2 1174.2,98.8 1175.0,103.0 C1175.8,107.2 1176.7,112.5 1176.0,116.0 C1175.3,119.5 1173.0,123.5 1171.0,124.0 C1169.0,124.5 1165.8,121.5 1164.0,119.0 C1162.2,116.5 1161.5,111.3 1160.0,109.0 C1158.5,106.7 1156.3,104.7 1155.0,105.0 C1153.7,105.3 1152.5,110.0 1152.0,111.0" fill="none" stroke="#141414" stroke-width="3.4" />
<line x1="1065" y1="122" x2="1095" y2="122" stroke="#555" stroke-width="2.5" stroke-dasharray="3 2"/>
<line x1="1185" y1="70" x2="1222" y2="70" stroke="#333" stroke-width="3" stroke-dasharray="3 2"/>
<text transform="translate(1017.3,142.0) scale(0.66,1)" font-size="54" fill="#111" stroke="#111" stroke-width="1.0">2</text>
<text transform="translate(1037.1,142.0) scale(0.66,1)" font-size="54" fill="#111" stroke="#111" stroke-width="1.0">8</text>
<text transform="translate(1233.3,89.0) scale(0.66,1)" font-size="54" fill="#111" stroke="#111" stroke-width="1.0">2</text>
<text transform="translate(1253.1,89.0) scale(0.66,1)" font-size="54" fill="#111" stroke="#111" stroke-width="1.0">8</text>
<path d="M1226.0,125.0 C1227.0,123.2 1229.7,116.3 1232.0,114.0 C1234.3,111.7 1237.2,110.2 1240.0,111.0 C1242.8,111.8 1247.2,115.8 1249.0,119.0 C1250.8,122.2 1250.7,128.2 1251.0,130.0" fill="none" stroke="#141414" stroke-width="3.8" />
<path d="M1251,130 L1256,130 L1266,129 L1271,136" fill="none" stroke="#141414" stroke-width="3.8" />
<path d="M1271.0,136.0 C1271.2,138.3 1272.0,144.3 1272.0,150.0 C1272.0,155.7 1271.8,164.5 1271.0,170.0 C1270.2,175.5 1269.5,179.5 1267.0,183.0 C1264.5,186.5 1258.7,190.0 1256.0,191.0 C1253.3,192.0 1252.7,190.8 1251.0,189.0 C1249.3,187.2 1247.8,183.2 1246.0,180.0 C1244.2,176.8 1242.0,171.5 1240.0,170.0 C1238.0,168.5 1235.8,170.0 1234.0,171.0 C1232.2,172.0 1230.5,176.7 1229.0,176.0 C1227.5,175.3 1225.8,171.2 1225.0,167.0 C1224.2,162.8 1223.8,158.0 1224.0,151.0 C1224.2,144.0 1225.7,129.3 1226.0,125.0" fill="none" stroke="#141414" stroke-width="3.8" />
<ellipse cx="1240.5" cy="132" rx="6.5" ry="13.5" transform="rotate(-8 1240.5 132)" fill="none" stroke="#141414" stroke-width="3.4" />
<path d="M1254.0,140.0 C1253.8,143.3 1253.0,151.8 1253.0,160.0 C1253.0,168.2 1253.8,184.2 1254.0,189.0" fill="none" stroke="#141414" stroke-width="2.8" />
<path d="M1251.0,142.0 C1252.2,141.0 1255.2,137.5 1258.0,136.0 C1260.8,134.5 1266.3,133.5 1268.0,133.0" fill="none" stroke="#141414" stroke-width="2.8" />
<line x1="1273" y1="165" x2="1292" y2="165" stroke="#4a4a4a" stroke-width="3.5" />
<path d="M1308.0,157.0 L1315.5,148.8 L1315.5,185.5" fill="none" stroke="#111" stroke-width="4.2" stroke-linecap="butt" stroke-linejoin="miter"/>
<text transform="translate(1323.1,186.0) scale(0.66,1)" font-size="54" fill="#111" stroke="#111" stroke-width="1.0">3</text>
<path d="M1096.0,210.0 C1096.3,206.7 1096.0,194.3 1098.0,190.0 C1100.0,185.7 1104.3,183.7 1108.0,184.0 C1111.7,184.3 1110.7,182.0 1120.0,192.0 C1129.3,202.0 1156.3,230.3 1164.0,244.0 C1171.7,257.7 1167.0,267.7 1166.0,274.0 C1165.0,280.3 1160.7,281.2 1158.0,282.0 C1155.3,282.8 1155.7,282.0 1150.0,279.0 C1144.3,276.0 1131.3,269.8 1124.0,264.0 C1116.7,258.2 1110.3,250.2 1106.0,244.0 C1101.7,237.8 1099.7,232.7 1098.0,227.0 C1096.3,221.3 1096.3,212.8 1096.0,210.0 C1095.7,207.2 1095.7,213.3 1096.0,210.0 Z" fill="none" stroke="#141414" stroke-width="3.6" />
<line x1="1108" y1="190" x2="1156" y2="248" stroke="#141414" stroke-width="2.6" />
<line x1="1152" y1="252" x2="1152" y2="280" stroke="#141414" stroke-width="2.6" />
<line x1="1152" y1="252" x2="1165" y2="245" stroke="#141414" stroke-width="2.6" />
<ellipse cx="1114" cy="214" rx="7" ry="12" transform="rotate(-15 1114 214)" fill="none" stroke="#141414" stroke-width="3" />
<ellipse cx="1124" cy="252" rx="4" ry="6" transform="rotate(0 1124 252)" fill="none" stroke="#141414" stroke-width="2.6" />
<ellipse cx="1160" cy="266" rx="3" ry="4" transform="rotate(0 1160 266)" fill="none" stroke="#141414" stroke-width="2.2" />
<path d="M1124.0,230.0 C1125.3,229.2 1130.3,223.8 1132.0,225.0 C1133.7,226.2 1133.7,235.0 1134.0,237.0" fill="none" stroke="#141414" stroke-width="2.6" />
<path d="M1094.0,317.0 C1094.3,313.7 1094.0,301.3 1096.0,297.0 C1098.0,292.7 1102.3,290.7 1106.0,291.0 C1109.7,291.3 1108.7,289.0 1118.0,299.0 C1127.3,309.0 1154.3,337.3 1162.0,351.0 C1169.7,364.7 1165.0,374.7 1164.0,381.0 C1163.0,387.3 1158.7,388.2 1156.0,389.0 C1153.3,389.8 1153.7,389.0 1148.0,386.0 C1142.3,383.0 1129.3,376.8 1122.0,371.0 C1114.7,365.2 1108.3,357.2 1104.0,351.0 C1099.7,344.8 1097.7,339.7 1096.0,334.0 C1094.3,328.3 1094.3,319.8 1094.0,317.0 C1093.7,314.2 1093.7,320.3 1094.0,317.0 Z" fill="none" stroke="#141414" stroke-width="3.6" />
<line x1="1106" y1="297" x2="1154" y2="355" stroke="#141414" stroke-width="2.6" />
<line x1="1150" y1="359" x2="1150" y2="387" stroke="#141414" stroke-width="2.6" />
<line x1="1150" y1="359" x2="1163" y2="352" stroke="#141414" stroke-width="2.6" />
<ellipse cx="1112" cy="321" rx="7" ry="12" transform="rotate(-15 1112 321)" fill="none" stroke="#141414" stroke-width="3" />
<ellipse cx="1122" cy="359" rx="4" ry="6" transform="rotate(0 1122 359)" fill="none" stroke="#141414" stroke-width="2.6" />
<ellipse cx="1158" cy="373" rx="3" ry="4" transform="rotate(0 1158 373)" fill="none" stroke="#141414" stroke-width="2.2" />
<path d="M1122.0,337.0 C1123.3,336.2 1128.3,330.8 1130.0,332.0 C1131.7,333.2 1131.7,342.0 1132.0,344.0" fill="none" stroke="#141414" stroke-width="2.6" />
<line x1="1166" y1="249" x2="1196" y2="249" stroke="#333" stroke-width="3" stroke-dasharray="3 2"/>
<line x1="1164" y1="372" x2="1198" y2="372" stroke="#333" stroke-width="3" stroke-dasharray="3 2"/>
<path d="M1212.0,239.0 L1219.5,230.8 L1219.5,267.5" fill="none" stroke="#111" stroke-width="4.2" stroke-linecap="butt" stroke-linejoin="miter"/>
<text transform="translate(1227.1,268.0) scale(0.66,1)" font-size="54" fill="#111" stroke="#111" stroke-width="1.0">2</text>
<path d="M1214.0,364.0 L1221.5,355.8 L1221.5,392.5" fill="none" stroke="#111" stroke-width="4.2" stroke-linecap="butt" stroke-linejoin="miter"/>
<text transform="translate(1229.1,393.0) scale(0.66,1)" font-size="54" fill="#111" stroke="#111" stroke-width="1.0">2</text>
<path d="M1539.7164854568455,206.0543477711041 L1599.7164854568455,151.0543477711041 L1592.2835145431545,142.9456522288959 L1532.2835145431545,197.9456522288959" fill="none" stroke="#141414" stroke-width="3" />
<line x1="1547.2164854568455" y1="199.1793477711041" x2="1541.6263998936563" y2="189.38134065760255" stroke="#141414" stroke-width="2.2" />
<line x1="1550.9664854568455" y1="195.7418477711041" x2="1545.3763998936563" y2="185.94384065760255" stroke="#141414" stroke-width="2.2" />
<line x1="1554.7164854568455" y1="192.3043477711041" x2="1549.1263998936563" y2="182.50634065760255" stroke="#141414" stroke-width="2.2" />
<line x1="1558.4664854568455" y1="188.8668477711041" x2="1552.8763998936563" y2="179.06884065760255" stroke="#141414" stroke-width="2.2" />
<line x1="1562.2164854568455" y1="185.4293477711041" x2="1556.6263998936563" y2="175.63134065760255" stroke="#141414" stroke-width="2.2" />
<line x1="1565.9664854568455" y1="181.9918477711041" x2="1560.3763998936563" y2="172.19384065760255" stroke="#141414" stroke-width="2.2" />
<line x1="1569.7164854568455" y1="178.5543477711041" x2="1564.1263998936563" y2="168.75634065760255" stroke="#141414" stroke-width="2.2" />
<line x1="1573.4664854568455" y1="175.1168477711041" x2="1567.8763998936563" y2="165.31884065760255" stroke="#141414" stroke-width="2.2" />
<line x1="1577.2164854568455" y1="171.6793477711041" x2="1571.6263998936563" y2="161.88134065760255" stroke="#141414" stroke-width="2.2" />
<line x1="1580.9664854568455" y1="168.2418477711041" x2="1575.3763998936563" y2="158.44384065760255" stroke="#141414" stroke-width="2.2" />
<line x1="1584.7164854568455" y1="164.8043477711041" x2="1579.1263998936563" y2="155.00634065760255" stroke="#141414" stroke-width="2.2" />
<line x1="1588.4664854568455" y1="161.3668477711041" x2="1582.8763998936563" y2="151.56884065760255" stroke="#141414" stroke-width="2.2" />
<line x1="1592.2164854568455" y1="157.9293477711041" x2="1586.6263998936563" y2="148.13134065760255" stroke="#141414" stroke-width="2.2" />
<line x1="1595.9664854568455" y1="154.4918477711041" x2="1590.3763998936563" y2="144.69384065760255" stroke="#141414" stroke-width="2.2" />
<ellipse cx="1536" cy="202" rx="11.9" ry="16.8" transform="rotate(-22.510447078000844 1536 202)" fill="#fff" stroke="#141414" stroke-width="3.4" />
<line x1="1532" y1="202" x2="1540" y2="202" stroke="#141414" stroke-width="2.2" />
<line x1="1536" y1="197" x2="1536" y2="207" stroke="#141414" stroke-width="2.2" />
<path d="M1583.7164854568455,244.0543477711041 L1643.7164854568455,189.0543477711041 L1636.2835145431545,180.9456522288959 L1576.2835145431545,235.9456522288959" fill="none" stroke="#141414" stroke-width="3" />
<line x1="1591.2164854568455" y1="237.1793477711041" x2="1585.6263998936563" y2="227.38134065760255" stroke="#141414" stroke-width="2.2" />
<line x1="1594.9664854568455" y1="233.7418477711041" x2="1589.3763998936563" y2="223.94384065760255" stroke="#141414" stroke-width="2.2" />
<line x1="1598.7164854568455" y1="230.3043477711041" x2="1593.1263998936563" y2="220.50634065760255" stroke="#141414" stroke-width="2.2" />
<line x1="1602.4664854568455" y1="226.8668477711041" x2="1596.8763998936563" y2="217.06884065760255" stroke="#141414" stroke-width="2.2" />
<line x1="1606.2164854568455" y1="223.4293477711041" x2="1600.6263998936563" y2="213.63134065760255" stroke="#141414" stroke-width="2.2" />
<line x1="1609.9664854568455" y1="219.9918477711041" x2="1604.3763998936563" y2="210.19384065760255" stroke="#141414" stroke-width="2.2" />
<line x1="1613.7164854568455" y1="216.5543477711041" x2="1608.1263998936563" y2="206.75634065760255" stroke="#141414" stroke-width="2.2" />
<line x1="1617.4664854568455" y1="213.1168477711041" x2="1611.8763998936563" y2="203.31884065760255" stroke="#141414" stroke-width="2.2" />
<line x1="1621.2164854568455" y1="209.6793477711041" x2="1615.6263998936563" y2="199.88134065760255" stroke="#141414" stroke-width="2.2" />
<line x1="1624.9664854568455" y1="206.2418477711041" x2="1619.3763998936563" y2="196.44384065760255" stroke="#141414" stroke-width="2.2" />
<line x1="1628.7164854568455" y1="202.8043477711041" x2="1623.1263998936563" y2="193.00634065760255" stroke="#141414" stroke-width="2.2" />
<line x1="1632.4664854568455" y1="199.3668477711041" x2="1626.8763998936563" y2="189.56884065760255" stroke="#141414" stroke-width="2.2" />
<line x1="1636.2164854568455" y1="195.9293477711041" x2="1630.6263998936563" y2="186.13134065760255" stroke="#141414" stroke-width="2.2" />
<line x1="1639.9664854568455" y1="192.4918477711041" x2="1634.3763998936563" y2="182.69384065760255" stroke="#141414" stroke-width="2.2" />
<ellipse cx="1580" cy="240" rx="11.9" ry="16.8" transform="rotate(-22.510447078000844 1580 240)" fill="#fff" stroke="#141414" stroke-width="3.4" />
<line x1="1576" y1="240" x2="1584" y2="240" stroke="#141414" stroke-width="2.2" />
<line x1="1580" y1="235" x2="1580" y2="245" stroke="#141414" stroke-width="2.2" />
<path d="M1625.555869324709,284.19592580315646 L1684.555869324709,234.19592580315648 L1677.444130675291,225.80407419684352 L1618.444130675291,275.80407419684354" fill="none" stroke="#141414" stroke-width="3" />
<line x1="1633.4225359913755" y1="277.52925913648977" x2="1628.2180363433924" y2="267.52110329167283" stroke="#141414" stroke-width="2.2" />
<line x1="1637.355869324709" y1="274.19592580315646" x2="1632.1513696767258" y2="264.1877699583395" stroke="#141414" stroke-width="2.2" />
<line x1="1641.2892026580423" y1="270.86259246982314" x2="1636.0847030100592" y2="260.8544366250062" stroke="#141414" stroke-width="2.2" />
<line x1="1645.2225359913757" y1="267.52925913648977" x2="1640.0180363433926" y2="257.52110329167283" stroke="#141414" stroke-width="2.2" />
<line x1="1649.1558693247089" y1="264.19592580315646" x2="1643.9513696767258" y2="254.1877699583395" stroke="#141414" stroke-width="2.2" />
<line x1="1653.0892026580423" y1="260.86259246982314" x2="1647.8847030100592" y2="250.85443662500617" stroke="#141414" stroke-width="2.2" />
<line x1="1657.0225359913757" y1="257.5292591364898" x2="1651.8180363433926" y2="247.52110329167283" stroke="#141414" stroke-width="2.2" />
<line x1="1660.955869324709" y1="254.19592580315648" x2="1655.751369676726" y2="244.1877699583395" stroke="#141414" stroke-width="2.2" />
<line x1="1664.8892026580422" y1="250.86259246982317" x2="1659.6847030100591" y2="240.85443662500617" stroke="#141414" stroke-width="2.2" />
<line x1="1668.8225359913756" y1="247.52925913648983" x2="1663.6180363433925" y2="237.52110329167283" stroke="#141414" stroke-width="2.2" />
<line x1="1672.755869324709" y1="244.19592580315648" x2="1667.551369676726" y2="234.1877699583395" stroke="#141414" stroke-width="2.2" />
<line x1="1676.6892026580424" y1="240.86259246982314" x2="1671.4847030100593" y2="230.85443662500614" stroke="#141414" stroke-width="2.2" />
<line x1="1680.6225359913756" y1="237.52925913648983" x2="1675.4180363433925" y2="227.52110329167283" stroke="#141414" stroke-width="2.2" />
<ellipse cx="1622" cy="280" rx="11.9" ry="16.8" transform="rotate(-20.279863068956445 1622 280)" fill="#fff" stroke="#141414" stroke-width="3.4" />
<line x1="1618" y1="280" x2="1626" y2="280" stroke="#141414" stroke-width="2.2" />
<line x1="1622" y1="275" x2="1622" y2="285" stroke="#141414" stroke-width="2.2" />
<path d="M1713.5355339059327,319.53553390593277 L1747.7573593128807,283.8994949366117 L1752,274 L1742.1005050633883,278.24264068711926 L1706.4644660940673,312.46446609406723" fill="none" stroke="#141414" stroke-width="3" />
<line x1="1721.1718975422964" y1="311.89917026956914" x2="1715.8685966833975" y2="303.0603355047372" stroke="#141414" stroke-width="2.2" />
<line x1="1724.9900793604781" y1="308.08098845138727" x2="1719.6867785015793" y2="299.24215368655547" stroke="#141414" stroke-width="2.2" />
<line x1="1728.80826117866" y1="304.2628066332055" x2="1723.504960319761" y2="295.4239718683736" stroke="#141414" stroke-width="2.2" />
<line x1="1732.6264429968417" y1="300.44462481502364" x2="1727.3231421379428" y2="291.60579005019184" stroke="#141414" stroke-width="2.2" />
<line x1="1736.4446248150236" y1="296.6264429968419" x2="1731.1413239561248" y2="287.78760823201" stroke="#141414" stroke-width="2.2" />
<line x1="1740.2628066332054" y1="292.80826117866" x2="1734.9595057743065" y2="283.9694264138281" stroke="#141414" stroke-width="2.2" />
<line x1="1744.0809884513872" y1="288.99007936047815" x2="1738.7776875924883" y2="280.15124459564635" stroke="#141414" stroke-width="2.2" />
<line x1="1747.899170269569" y1="285.1718975422964" x2="1742.59586941067" y2="276.3330627774645" stroke="#141414" stroke-width="2.2" />
<line x1="1751.717352087751" y1="281.3537157241145" x2="1746.414051228852" y2="272.5148809592827" stroke="#141414" stroke-width="2.2" />
<ellipse cx="1710" cy="316" rx="11.475" ry="16.2" transform="rotate(-25.0 1710 316)" fill="#fff" stroke="#141414" stroke-width="3.4" />
<line x1="1706" y1="316" x2="1714" y2="316" stroke="#141414" stroke-width="2.2" />
<line x1="1710" y1="311" x2="1710" y2="321" stroke="#141414" stroke-width="2.2" />
<path d="M1745.4523787334126,353.61677772071783 L1781.5283475452943,317.7981796433993 L1786,308 L1776.0045415718341,312.0113352902507 L1738.5476212665874,346.38322227928217" fill="none" stroke="#141414" stroke-width="3" />
<line x1="1752.7857120667459" y1="346.61677772071783" x2="1747.6893434602796" y2="337.6570329125759" stroke="#141414" stroke-width="2.2" />
<line x1="1756.4523787334126" y1="343.11677772071783" x2="1751.3560101269463" y2="334.1570329125759" stroke="#141414" stroke-width="2.2" />
<line x1="1760.1190454000794" y1="339.61677772071783" x2="1755.022676793613" y2="330.6570329125759" stroke="#141414" stroke-width="2.2" />
<line x1="1763.7857120667459" y1="336.11677772071783" x2="1758.6893434602796" y2="327.1570329125759" stroke="#141414" stroke-width="2.2" />
<line x1="1767.4523787334126" y1="332.61677772071783" x2="1762.3560101269463" y2="323.6570329125759" stroke="#141414" stroke-width="2.2" />
<line x1="1771.1190454000794" y1="329.11677772071783" x2="1766.022676793613" y2="320.1570329125759" stroke="#141414" stroke-width="2.2" />
<line x1="1774.7857120667459" y1="325.61677772071783" x2="1769.6893434602796" y2="316.6570329125759" stroke="#141414" stroke-width="2.2" />
<line x1="1778.4523787334126" y1="322.11677772071783" x2="1773.3560101269463" y2="313.1570329125759" stroke="#141414" stroke-width="2.2" />
<line x1="1782.1190454000794" y1="318.61677772071783" x2="1777.022676793613" y2="309.6570329125759" stroke="#141414" stroke-width="2.2" />
<line x1="1785.7857120667459" y1="315.11677772071783" x2="1780.6893434602796" y2="306.1570329125759" stroke="#141414" stroke-width="2.2" />
<ellipse cx="1742" cy="350" rx="11.475" ry="16.2" transform="rotate(-23.66778014613036 1742 350)" fill="#fff" stroke="#141414" stroke-width="3.4" />
<line x1="1738" y1="350" x2="1746" y2="350" stroke="#141414" stroke-width="2.2" />
<line x1="1742" y1="345" x2="1742" y2="355" stroke="#141414" stroke-width="2.2" />
<path d="M1781.3218191941496,386.7370465934183 L1818.183362168483,352.6332756630339 L1823,343 L1812.8684514578438,346.65400111356456 L1774.6781808058504,379.2629534065817" fill="none" stroke="#141414" stroke-width="3" />
<line x1="1788.8218191941496" y1="380.0703799267516" x2="1784.0467041025595" y2="370.9353771428402" stroke="#141414" stroke-width="2.2" />
<line x1="1792.5718191941496" y1="376.7370465934183" x2="1787.7967041025595" y2="367.6020438095069" stroke="#141414" stroke-width="2.2" />
<line x1="1796.3218191941496" y1="373.403713260085" x2="1791.5467041025595" y2="364.26871047617357" stroke="#141414" stroke-width="2.2" />
<line x1="1800.0718191941496" y1="370.0703799267516" x2="1795.2967041025595" y2="360.9353771428402" stroke="#141414" stroke-width="2.2" />
<line x1="1803.8218191941496" y1="366.7370465934183" x2="1799.0467041025595" y2="357.6020438095069" stroke="#141414" stroke-width="2.2" />
<line x1="1807.5718191941496" y1="363.403713260085" x2="1802.7967041025595" y2="354.26871047617357" stroke="#141414" stroke-width="2.2" />
<line x1="1811.3218191941496" y1="360.0703799267516" x2="1806.5467041025595" y2="350.9353771428402" stroke="#141414" stroke-width="2.2" />
<line x1="1815.0718191941496" y1="356.7370465934183" x2="1810.2967041025595" y2="347.6020438095069" stroke="#141414" stroke-width="2.2" />
<line x1="1818.8218191941496" y1="353.403713260085" x2="1814.0467041025595" y2="344.26871047617357" stroke="#141414" stroke-width="2.2" />
<line x1="1822.5718191941496" y1="350.0703799267516" x2="1817.7967041025595" y2="340.9353771428402" stroke="#141414" stroke-width="2.2" />
<ellipse cx="1778" cy="383" rx="11.475" ry="16.2" transform="rotate(-21.633539336570202 1778 383)" fill="#fff" stroke="#141414" stroke-width="3.4" />
<line x1="1774" y1="383" x2="1782" y2="383" stroke="#141414" stroke-width="2.2" />
<line x1="1778" y1="378" x2="1778" y2="388" stroke="#141414" stroke-width="2.2" />
<line x1="1534" y1="140" x2="1534" y2="185" stroke="#4a4a4a" stroke-width="2.5" />
<line x1="1635" y1="150" x2="1635" y2="180" stroke="#4a4a4a" stroke-width="2.5" />
<line x1="1573" y1="294" x2="1612" y2="294" stroke="#333" stroke-width="2.5" stroke-dasharray="3 2"/>
<line x1="1696" y1="358" x2="1708" y2="336" stroke="#4a4a4a" stroke-width="2.5" />
<line x1="1741" y1="367" x2="1741" y2="410" stroke="#4a4a4a" stroke-width="2.5" />
<line x1="1782" y1="400" x2="1782" y2="420" stroke="#4a4a4a" stroke-width="2.5" />
<text transform="translate(1514.3,120.0) scale(0.66,1)" font-size="54" fill="#111" stroke="#111" stroke-width="1.0">2</text>
<text transform="translate(1534.1,120.0) scale(0.66,1)" font-size="54" fill="#111" stroke="#111" stroke-width="1.0">3</text>
<text transform="translate(1615.3,135.0) scale(0.66,1)" font-size="54" fill="#111" stroke="#111" stroke-width="1.0">2</text>
<text transform="translate(1635.1,135.0) scale(0.66,1)" font-size="54" fill="#111" stroke="#111" stroke-width="1.0">3</text>
<text transform="translate(1523.3,313.0) scale(0.66,1)" font-size="54" fill="#111" stroke="#111" stroke-width="1.0">2</text>
<text transform="translate(1543.1,313.0) scale(0.66,1)" font-size="54" fill="#111" stroke="#111" stroke-width="1.0">3</text>
<text transform="translate(1643.3,376.0) scale(0.66,1)" font-size="54" fill="#111" stroke="#111" stroke-width="1.0">2</text>
<text transform="translate(1663.1,376.0) scale(0.66,1)" font-size="54" fill="#111" stroke="#111" stroke-width="1.0">4</text>
<text transform="translate(1720.3,467.0) scale(0.66,1)" font-size="54" fill="#111" stroke="#111" stroke-width="1.0">2</text>
<text transform="translate(1740.1,467.0) scale(0.66,1)" font-size="54" fill="#111" stroke="#111" stroke-width="1.0">4</text>
<text transform="translate(1799.3,453.0) scale(0.66,1)" font-size="54" fill="#111" stroke="#111" stroke-width="1.0">2</text>
<text transform="translate(1819.1,453.0) scale(0.66,1)" font-size="54" fill="#111" stroke="#111" stroke-width="1.0">4</text>
<path d="M1816.8,113.0 C1816.8,114.2 1816.6,115.4 1816.3,116.5 C1816.0,117.6 1815.4,118.6 1815.0,119.6 C1814.6,120.6 1814.2,121.4 1813.9,122.5 C1813.6,123.5 1813.5,124.5 1813.4,125.7 C1813.2,126.8 1813.1,128.1 1812.8,129.2 C1812.5,130.3 1812.2,131.5 1811.6,132.3 C1811.1,133.1 1810.3,133.7 1809.6,134.1 C1808.9,134.6 1808.0,134.7 1807.3,135.0 C1806.5,135.2 1805.8,135.4 1805.2,135.8 C1804.5,136.2 1803.9,136.9 1803.3,137.5 C1802.6,138.1 1802.0,139.0 1801.3,139.4 C1800.6,139.9 1799.8,140.3 1799.0,140.3 C1798.2,140.3 1797.4,139.9 1796.7,139.4 C1796.0,139.0 1795.4,138.1 1794.7,137.5 C1794.1,136.9 1793.5,136.2 1792.8,135.8 C1792.2,135.4 1791.5,135.2 1790.7,135.0 C1790.0,134.7 1789.1,134.6 1788.4,134.1 C1787.7,133.7 1786.9,133.1 1786.4,132.3 C1785.8,131.5 1785.5,130.3 1785.2,129.2 C1784.9,128.1 1784.8,126.8 1784.6,125.7 C1784.5,124.5 1784.4,123.5 1784.1,122.5 C1783.8,121.4 1783.4,120.6 1783.0,119.6 C1782.6,118.6 1782.0,117.6 1781.7,116.5 C1781.4,115.4 1781.2,114.2 1781.2,113.0 C1781.2,111.8 1781.4,110.6 1781.7,109.5 C1782.0,108.4 1782.6,107.4 1783.0,106.4 C1783.4,105.4 1783.8,104.6 1784.1,103.5 C1784.4,102.5 1784.5,101.5 1784.6,100.3 C1784.8,99.2 1784.9,97.9 1785.2,96.8 C1785.5,95.7 1785.8,94.5 1786.4,93.7 C1786.9,92.9 1787.7,92.3 1788.4,91.9 C1789.1,91.4 1790.0,91.3 1790.7,91.0 C1791.5,90.8 1792.2,90.6 1792.8,90.2 C1793.5,89.8 1794.1,89.1 1794.7,88.5 C1795.4,87.9 1796.0,87.0 1796.7,86.6 C1797.4,86.1 1798.2,85.7 1799.0,85.7 C1799.8,85.7 1800.6,86.1 1801.3,86.6 C1802.0,87.0 1802.6,87.9 1803.3,88.5 C1803.9,89.1 1804.5,89.8 1805.2,90.2 C1805.8,90.6 1806.5,90.8 1807.3,91.0 C1808.0,91.3 1808.9,91.4 1809.6,91.9 C1810.3,92.3 1811.1,92.9 1811.6,93.7 C1812.2,94.5 1812.5,95.7 1812.8,96.8 C1813.1,97.9 1813.2,99.2 1813.4,100.3 C1813.5,101.5 1813.6,102.5 1813.9,103.5 C1814.2,104.6 1814.6,105.4 1815.0,106.4 C1815.4,107.4 1816.0,108.4 1816.3,109.5 C1816.6,110.6 1816.8,111.8 1816.8,113.0 Z" fill="#fff" stroke="#141414" stroke-width="3.8" />
<ellipse cx="1796" cy="114" rx="9" ry="16" transform="rotate(-10 1796 114)" fill="none" stroke="#141414" stroke-width="2.8" />
<ellipse cx="1796" cy="115" rx="4" ry="8" transform="rotate(-10 1796 115)" fill="#333" stroke="#141414" stroke-width="3.4" />
<path d="M1800.0,89.0 C1800.5,91.3 1802.7,97.7 1803.0,103.0 C1803.3,108.3 1802.3,115.3 1802.0,121.0 C1801.7,126.7 1801.2,134.3 1801.0,137.0" fill="none" stroke="#141414" stroke-width="2.8" />
<line x1="1793" y1="95" x2="1803" y2="105" stroke="#141414" stroke-width="2.4" />
<line x1="1803" y1="119" x2="1811" y2="127" stroke="#141414" stroke-width="2.4" />
<path d="M1855.8,150.0 C1855.8,151.2 1855.6,152.4 1855.3,153.5 C1855.0,154.6 1854.4,155.6 1854.0,156.6 C1853.6,157.6 1853.2,158.4 1852.9,159.5 C1852.6,160.5 1852.5,161.5 1852.4,162.7 C1852.2,163.8 1852.1,165.1 1851.8,166.2 C1851.5,167.3 1851.2,168.5 1850.6,169.3 C1850.1,170.1 1849.3,170.7 1848.6,171.1 C1847.9,171.6 1847.0,171.7 1846.3,172.0 C1845.5,172.2 1844.8,172.4 1844.2,172.8 C1843.5,173.2 1842.9,173.9 1842.3,174.5 C1841.6,175.1 1841.0,176.0 1840.3,176.4 C1839.6,176.9 1838.8,177.3 1838.0,177.3 C1837.2,177.3 1836.4,176.9 1835.7,176.4 C1835.0,176.0 1834.4,175.1 1833.7,174.5 C1833.1,173.9 1832.5,173.2 1831.8,172.8 C1831.2,172.4 1830.5,172.2 1829.7,172.0 C1829.0,171.7 1828.1,171.6 1827.4,171.1 C1826.7,170.7 1825.9,170.1 1825.4,169.3 C1824.8,168.5 1824.5,167.3 1824.2,166.2 C1823.9,165.1 1823.8,163.8 1823.6,162.7 C1823.5,161.5 1823.4,160.5 1823.1,159.5 C1822.8,158.4 1822.4,157.6 1822.0,156.6 C1821.6,155.6 1821.0,154.6 1820.7,153.5 C1820.4,152.4 1820.2,151.2 1820.2,150.0 C1820.2,148.8 1820.4,147.6 1820.7,146.5 C1821.0,145.4 1821.6,144.4 1822.0,143.4 C1822.4,142.4 1822.8,141.6 1823.1,140.5 C1823.4,139.5 1823.5,138.5 1823.6,137.3 C1823.8,136.2 1823.9,134.9 1824.2,133.8 C1824.5,132.7 1824.8,131.5 1825.4,130.7 C1825.9,129.9 1826.7,129.3 1827.4,128.9 C1828.1,128.4 1829.0,128.3 1829.7,128.0 C1830.5,127.8 1831.2,127.6 1831.8,127.2 C1832.5,126.8 1833.1,126.1 1833.7,125.5 C1834.4,124.9 1835.0,124.0 1835.7,123.6 C1836.4,123.1 1837.2,122.7 1838.0,122.7 C1838.8,122.7 1839.6,123.1 1840.3,123.6 C1841.0,124.0 1841.6,124.9 1842.3,125.5 C1842.9,126.1 1843.5,126.8 1844.2,127.2 C1844.8,127.6 1845.5,127.8 1846.3,128.0 C1847.0,128.3 1847.9,128.4 1848.6,128.9 C1849.3,129.3 1850.1,129.9 1850.6,130.7 C1851.2,131.5 1851.5,132.7 1851.8,133.8 C1852.1,134.9 1852.2,136.2 1852.4,137.3 C1852.5,138.5 1852.6,139.5 1852.9,140.5 C1853.2,141.6 1853.6,142.4 1854.0,143.4 C1854.4,144.4 1855.0,145.4 1855.3,146.5 C1855.6,147.6 1855.8,148.8 1855.8,150.0 Z" fill="#fff" stroke="#141414" stroke-width="3.8" />
<ellipse cx="1835" cy="151" rx="9" ry="16" transform="rotate(-10 1835 151)" fill="none" stroke="#141414" stroke-width="2.8" />
<ellipse cx="1835" cy="152" rx="4" ry="8" transform="rotate(-10 1835 152)" fill="#333" stroke="#141414" stroke-width="3.4" />
<path d="M1839.0,126.0 C1839.5,128.3 1841.7,134.7 1842.0,140.0 C1842.3,145.3 1841.3,152.3 1841.0,158.0 C1840.7,163.7 1840.2,171.3 1840.0,174.0" fill="none" stroke="#141414" stroke-width="2.8" />
<line x1="1832" y1="132" x2="1842" y2="142" stroke="#141414" stroke-width="2.4" />
<line x1="1842" y1="156" x2="1850" y2="164" stroke="#141414" stroke-width="2.4" />
<path d="M1894.8,186.0 C1894.8,187.2 1894.6,188.4 1894.3,189.5 C1894.0,190.6 1893.4,191.6 1893.0,192.6 C1892.6,193.6 1892.2,194.4 1891.9,195.5 C1891.6,196.5 1891.5,197.5 1891.4,198.7 C1891.2,199.8 1891.1,201.1 1890.8,202.2 C1890.5,203.3 1890.2,204.5 1889.6,205.3 C1889.1,206.1 1888.3,206.7 1887.6,207.1 C1886.9,207.6 1886.0,207.7 1885.3,208.0 C1884.5,208.2 1883.8,208.4 1883.2,208.8 C1882.5,209.2 1881.9,209.9 1881.3,210.5 C1880.6,211.1 1880.0,212.0 1879.3,212.4 C1878.6,212.9 1877.8,213.3 1877.0,213.3 C1876.2,213.3 1875.4,212.9 1874.7,212.4 C1874.0,212.0 1873.4,211.1 1872.7,210.5 C1872.1,209.9 1871.5,209.2 1870.8,208.8 C1870.2,208.4 1869.5,208.2 1868.7,208.0 C1868.0,207.7 1867.1,207.6 1866.4,207.1 C1865.7,206.7 1864.9,206.1 1864.4,205.3 C1863.8,204.5 1863.5,203.3 1863.2,202.2 C1862.9,201.1 1862.8,199.8 1862.6,198.7 C1862.5,197.5 1862.4,196.5 1862.1,195.5 C1861.8,194.4 1861.4,193.6 1861.0,192.6 C1860.6,191.6 1860.0,190.6 1859.7,189.5 C1859.4,188.4 1859.2,187.2 1859.2,186.0 C1859.2,184.8 1859.4,183.6 1859.7,182.5 C1860.0,181.4 1860.6,180.4 1861.0,179.4 C1861.4,178.4 1861.8,177.6 1862.1,176.5 C1862.4,175.5 1862.5,174.5 1862.6,173.3 C1862.8,172.2 1862.9,170.9 1863.2,169.8 C1863.5,168.7 1863.8,167.5 1864.4,166.7 C1864.9,165.9 1865.7,165.3 1866.4,164.9 C1867.1,164.4 1868.0,164.3 1868.7,164.0 C1869.5,163.8 1870.2,163.6 1870.8,163.2 C1871.5,162.8 1872.1,162.1 1872.7,161.5 C1873.4,160.9 1874.0,160.0 1874.7,159.6 C1875.4,159.1 1876.2,158.7 1877.0,158.7 C1877.8,158.7 1878.6,159.1 1879.3,159.6 C1880.0,160.0 1880.6,160.9 1881.3,161.5 C1881.9,162.1 1882.5,162.8 1883.2,163.2 C1883.8,163.6 1884.5,163.8 1885.3,164.0 C1886.0,164.3 1886.9,164.4 1887.6,164.9 C1888.3,165.3 1889.1,165.9 1889.6,166.7 C1890.2,167.5 1890.5,168.7 1890.8,169.8 C1891.1,170.9 1891.2,172.2 1891.4,173.3 C1891.5,174.5 1891.6,175.5 1891.9,176.5 C1892.2,177.6 1892.6,178.4 1893.0,179.4 C1893.4,180.4 1894.0,181.4 1894.3,182.5 C1894.6,183.6 1894.8,184.8 1894.8,186.0 Z" fill="#fff" stroke="#141414" stroke-width="3.8" />
<ellipse cx="1874" cy="187" rx="9" ry="16" transform="rotate(-10 1874 187)" fill="none" stroke="#141414" stroke-width="2.8" />
<ellipse cx="1874" cy="188" rx="4" ry="8" transform="rotate(-10 1874 188)" fill="#333" stroke="#141414" stroke-width="3.4" />
<path d="M1878.0,162.0 C1878.5,164.3 1880.7,170.7 1881.0,176.0 C1881.3,181.3 1880.3,188.3 1880.0,194.0 C1879.7,199.7 1879.2,207.3 1879.0,210.0" fill="none" stroke="#141414" stroke-width="2.8" />
<line x1="1871" y1="168" x2="1881" y2="178" stroke="#141414" stroke-width="2.4" />
<line x1="1881" y1="192" x2="1889" y2="200" stroke="#141414" stroke-width="2.4" />
<line x1="1766" y1="112" x2="1782" y2="112" stroke="#4a4a4a" stroke-width="2.5" />
<line x1="1896" y1="190" x2="1910" y2="190" stroke="#4a4a4a" stroke-width="3" />
<line x1="1834" y1="176" x2="1834" y2="210" stroke="#4a4a4a" stroke-width="2.5" />
<text transform="translate(1715.3,130.0) scale(0.66,1)" font-size="54" fill="#111" stroke="#111" stroke-width="1.0">2</text>
<text transform="translate(1735.1,130.0) scale(0.66,1)" font-size="54" fill="#111" stroke="#111" stroke-width="1.0">5</text>
<text transform="translate(1920.3,208.0) scale(0.66,1)" font-size="54" fill="#111" stroke="#111" stroke-width="1.0">2</text>
<text transform="translate(1940.1,208.0) scale(0.66,1)" font-size="54" fill="#111" stroke="#111" stroke-width="1.0">5</text>
<text transform="translate(1813.3,266.0) scale(0.66,1)" font-size="54" fill="#111" stroke="#111" stroke-width="1.0">2</text>
<text transform="translate(1833.1,266.0) scale(0.66,1)" font-size="54" fill="#111" stroke="#111" stroke-width="1.0">5</text>
<ellipse cx="1441" cy="339" rx="18" ry="33" transform="rotate(-15 1441 339)" fill="#fff" stroke="#141414" stroke-width="3.2" />
<ellipse cx="1438" cy="340" rx="18" ry="33" transform="rotate(-15 1438 340)" fill="#fff" stroke="#141414" stroke-width="3.6" />
<ellipse cx="1437" cy="342" rx="5" ry="7" transform="rotate(-15 1437 342)" fill="none" stroke="#141414" stroke-width="2.6" />
<ellipse cx="1488" cy="383" rx="18" ry="33" transform="rotate(-15 1488 383)" fill="#fff" stroke="#141414" stroke-width="3.2" />
<ellipse cx="1485" cy="384" rx="18" ry="33" transform="rotate(-15 1485 384)" fill="#fff" stroke="#141414" stroke-width="3.6" />
<ellipse cx="1484" cy="386" rx="5" ry="7" transform="rotate(-15 1484 386)" fill="none" stroke="#141414" stroke-width="2.6" />
<ellipse cx="1533" cy="427" rx="18" ry="33" transform="rotate(-15 1533 427)" fill="#fff" stroke="#141414" stroke-width="3.2" />
<ellipse cx="1530" cy="428" rx="18" ry="33" transform="rotate(-15 1530 428)" fill="#fff" stroke="#141414" stroke-width="3.6" />
<ellipse cx="1529" cy="430" rx="5" ry="7" transform="rotate(-15 1529 430)" fill="none" stroke="#141414" stroke-width="2.6" />
<line x1="1398" y1="336" x2="1419" y2="336" stroke="#333" stroke-width="2.5" stroke-dasharray="3 2"/>
<line x1="1485" y1="417" x2="1485" y2="470" stroke="#4a4a4a" stroke-width="2.5" />
<line x1="1550" y1="445" x2="1570" y2="445" stroke="#4a4a4a" stroke-width="2.5" />
<text transform="translate(1348.3,355.0) scale(0.66,1)" font-size="54" fill="#111" stroke="#111" stroke-width="1.0">2</text>
<text transform="translate(1368.1,355.0) scale(0.66,1)" font-size="54" fill="#111" stroke="#111" stroke-width="1.0">7</text>
<text transform="translate(1464.3,524.0) scale(0.66,1)" font-size="54" fill="#111" stroke="#111" stroke-width="1.0">2</text>
<text transform="translate(1484.1,524.0) scale(0.66,1)" font-size="54" fill="#111" stroke="#111" stroke-width="1.0">7</text>
<text transform="translate(1578.3,464.0) scale(0.66,1)" font-size="54" fill="#111" stroke="#111" stroke-width="1.0">2</text>
<text transform="translate(1598.1,464.0) scale(0.66,1)" font-size="54" fill="#111" stroke="#111" stroke-width="1.0">7</text>
<path d="M1150.0,1287.0 C1155.0,1285.8 1169.2,1282.2 1180.0,1280.0 C1190.8,1277.8 1203.0,1274.8 1215.0,1274.0 C1227.0,1273.2 1239.5,1272.0 1252.0,1275.0 C1264.5,1278.0 1275.3,1284.5 1290.0,1292.0 C1304.7,1299.5 1323.3,1309.5 1340.0,1320.0 C1356.7,1330.5 1375.5,1345.5 1390.0,1355.0 C1404.5,1364.5 1412.5,1371.7 1427.0,1377.0 C1441.5,1382.3 1462.3,1384.5 1477.0,1387.0 C1491.7,1389.5 1508.7,1391.2 1515.0,1392.0" fill="none" stroke="#141414" stroke-width="3.6" />
<path d="M1157.0,1310.0 C1162.5,1307.8 1178.3,1299.5 1190.0,1297.0 C1201.7,1294.5 1212.5,1293.3 1227.0,1295.0 C1241.5,1296.7 1260.3,1300.3 1277.0,1307.0 C1293.7,1313.7 1310.3,1323.7 1327.0,1335.0 C1343.7,1346.3 1362.3,1364.7 1377.0,1375.0 C1391.7,1385.3 1402.5,1391.3 1415.0,1397.0 C1427.5,1402.7 1440.3,1407.0 1452.0,1409.0 C1463.7,1411.0 1479.5,1409.0 1485.0,1409.0" fill="none" stroke="#141414" stroke-width="3.6" />
<line x1="1153" y1="1288" x2="1160" y2="1308" stroke="#141414" stroke-width="2.4" />
<line x1="1159" y1="1287" x2="1166" y2="1306" stroke="#141414" stroke-width="2.4" />
<line x1="1165" y1="1286" x2="1172" y2="1304" stroke="#141414" stroke-width="2.4" />
<line x1="1171" y1="1285" x2="1178" y2="1302" stroke="#141414" stroke-width="2.4" />
<line x1="1487" y1="1390" x2="1489" y2="1412" stroke="#141414" stroke-width="2.4" />
<line x1="1492" y1="1390" x2="1494" y2="1412" stroke="#141414" stroke-width="2.4" />
<line x1="1497" y1="1390" x2="1499" y2="1412" stroke="#141414" stroke-width="2.4" />
<line x1="1502" y1="1390" x2="1504" y2="1412" stroke="#141414" stroke-width="2.4" />
<line x1="1507" y1="1390" x2="1509" y2="1412" stroke="#141414" stroke-width="2.4" />
<path d="M1148.0,1290.0 C1145.0,1291.7 1136.0,1295.3 1130.0,1300.0 C1124.0,1304.7 1117.0,1312.7 1112.0,1318.0 C1107.0,1323.3 1102.0,1329.7 1100.0,1332.0" fill="none" stroke="#141414" stroke-width="3" />
<path d="M1152.0,1296.0 C1149.0,1298.0 1139.7,1303.0 1134.0,1308.0 C1128.3,1313.0 1122.3,1321.0 1118.0,1326.0 C1113.7,1331.0 1109.7,1336.0 1108.0,1338.0" fill="none" stroke="#141414" stroke-width="2.6" />
<path d="M1100,1325 L1066,1366 L1078,1384 L1114,1342 Z" fill="#fff" stroke="#141414" stroke-width="3.6" />
<ellipse cx="1072" cy="1375" rx="6" ry="10" transform="rotate(40 1072 1375)" fill="#fff" stroke="#141414" stroke-width="3" />
<path d="M1150.0,1300.0 C1146.7,1303.0 1135.7,1311.7 1130.0,1318.0 C1124.3,1324.3 1119.7,1332.3 1116.0,1338.0 C1112.3,1343.7 1109.3,1349.7 1108.0,1352.0" fill="none" stroke="#141414" stroke-width="2.6" />
<path d="M1155.0,1305.0 C1152.8,1308.3 1145.2,1318.3 1142.0,1325.0 C1138.8,1331.7 1137.0,1341.7 1136.0,1345.0" fill="none" stroke="#141414" stroke-width="2.6" />
<path d="M1108.0,1345.0 C1109.0,1345.5 1113.3,1345.2 1114.0,1348.0 C1114.7,1350.8 1113.7,1358.0 1112.0,1362.0 C1110.3,1366.0 1106.3,1371.3 1104.0,1372.0 C1101.7,1372.7 1098.7,1369.3 1098.0,1366.0 C1097.3,1362.7 1098.3,1355.5 1100.0,1352.0 C1101.7,1348.5 1106.7,1346.2 1108.0,1345.0" fill="#fff" stroke="#141414" stroke-width="3" />
<line x1="1101" y1="1372" x2="1098" y2="1392" stroke="#141414" stroke-width="3.6" />
<path d="M1136.0,1340.0 C1136.8,1340.8 1140.5,1341.7 1141.0,1345.0 C1141.5,1348.3 1140.7,1356.2 1139.0,1360.0 C1137.3,1363.8 1133.2,1368.0 1131.0,1368.0 C1128.8,1368.0 1126.5,1363.7 1126.0,1360.0 C1125.5,1356.3 1126.3,1349.3 1128.0,1346.0 C1129.7,1342.7 1134.7,1341.0 1136.0,1340.0" fill="#fff" stroke="#141414" stroke-width="3" />
<line x1="1129" y1="1367" x2="1128" y2="1384" stroke="#141414" stroke-width="3.6" />
<path d="M1515.0,1365.0 C1517.5,1362.8 1525.0,1355.3 1530.0,1352.0 C1535.0,1348.7 1540.0,1344.5 1545.0,1345.0 C1550.0,1345.5 1556.3,1350.8 1560.0,1355.0 C1563.7,1359.2 1565.8,1363.3 1567.0,1370.0 C1568.2,1376.7 1569.0,1389.2 1567.0,1395.0 C1565.0,1400.8 1559.5,1402.5 1555.0,1405.0 C1550.5,1407.5 1545.0,1409.5 1540.0,1410.0 C1535.0,1410.5 1529.2,1409.7 1525.0,1408.0 C1520.8,1406.3 1517.2,1404.7 1515.0,1400.0 C1512.8,1395.3 1512.0,1385.8 1512.0,1380.0 C1512.0,1374.2 1514.5,1367.5 1515.0,1365.0" fill="none" stroke="#141414" stroke-width="3.4" />
<ellipse cx="1551" cy="1350" rx="3" ry="5" transform="rotate(0 1551 1350)" fill="none" stroke="#141414" stroke-width="3" />
<line x1="1545" y1="1345" x2="1550" y2="1340" stroke="#141414" stroke-width="3" />
<line x1="1530" y1="1368" x2="1560" y2="1360" stroke="#141414" stroke-width="2.6" />
<line x1="1534" y1="1380" x2="1562" y2="1372" stroke="#141414" stroke-width="2.6" />
<line x1="1541" y1="1383" x2="1540" y2="1404" stroke="#141414" stroke-width="3.2" />
<line x1="1528" y1="1398" x2="1546" y2="1404" stroke="#141414" stroke-width="2.6" />
<ellipse cx="1536" cy="1376" rx="2.5" ry="3" transform="rotate(0 1536 1376)" fill="#222" stroke="#141414" stroke-width="2.4" />
<ellipse cx="1548" cy="1372" rx="2.5" ry="3" transform="rotate(0 1548 1372)" fill="#222" stroke="#141414" stroke-width="2.4" />
<path d="M1521.0,1372.0 C1522.0,1370.3 1525.2,1363.0 1527.0,1362.0 C1528.8,1361.0 1532.2,1363.7 1532.0,1366.0 C1531.8,1368.3 1527.0,1374.3 1526.0,1376.0" fill="none" stroke="#141414" stroke-width="3" />
<line x1="1309" y1="1325" x2="1309" y2="1377" stroke="#4a4a4a" stroke-width="2.5" />
<path d="M1295.0,1406.0 L1302.5,1397.8 L1302.5,1434.5" fill="none" stroke="#111" stroke-width="4.2" stroke-linecap="butt" stroke-linejoin="miter"/>
<text transform="translate(1310.1,1435.0) scale(0.66,1)" font-size="54" fill="#111" stroke="#111" stroke-width="1.0">6</text>
<line x1="1834" y1="1265" x2="1834" y2="1332" stroke="#4a4a4a" stroke-width="2.8" />
<path d="M1830.0,1359.0 L1837.5,1350.8 L1837.5,1387.5" fill="none" stroke="#111" stroke-width="4.2" stroke-linecap="butt" stroke-linejoin="miter"/>
</g>
<g fill="rgb(171,171,171)" fill-opacity="0.83" font-family="Liberation Sans, sans-serif" font-size="150">
<text transform="translate(326.0,827) scale(1.000,1)">w</text>
<text transform="translate(446.0,827) scale(1.000,1)">w</text>
<text transform="translate(565.0,827) scale(1.000,1)">w</text>
<circle cx="690.5" cy="817" r="10.5"/>
<text transform="translate(710.8,827) scale(1.019,1)">m</text>
<text transform="translate(839.2,827) scale(0.803,1)">a</text>
<text transform="translate(914.5,827) scale(1.250,1)">r</text>
<text transform="translate(974.3,827) scale(1.167,1)">ı</text>
<text transform="translate(1014.0,827) scale(1.000,1)">n</text>
<text transform="translate(1099.0,827) scale(1.000,1)">e</text>
<text transform="translate(1180.4,827) scale(1.061,1)">p</text>
<text transform="translate(1278.8,827) scale(0.697,1)">a</text>
<text transform="translate(1349.1,827) scale(1.194,1)">r</text>
<text transform="translate(1406.2,827) scale(1.421,1)">t</text>
<text transform="translate(1468.6,827) scale(0.862,1)">s</text>
<circle cx="1550.0" cy="817" r="10.5"/>
<text transform="translate(1569.7,827) scale(1.043,1)">e</text>
<text transform="translate(1648.9,827) scale(1.113,1)">u</text>
<circle cx="993" cy="726" r="9.5"/>
</g>
</svg>
</body></html>
